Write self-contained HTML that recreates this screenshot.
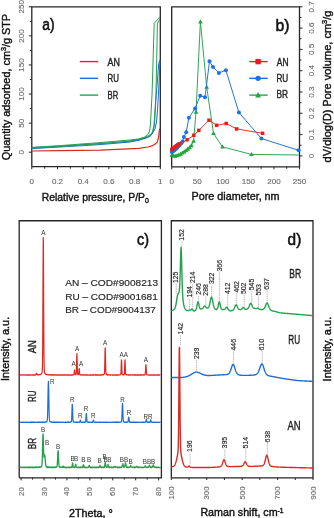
<!DOCTYPE html>
<html><head><meta charset="utf-8"><style>
html,body{margin:0;padding:0;background:#fff;width:334px;height:518px;overflow:hidden}
svg{display:block;will-change:transform}
text{font-family:"Liberation Sans",sans-serif}
</style></head><body>
<svg width="334" height="518" viewBox="0 0 334 518">
<rect width="334" height="518" fill="#fff"/>
<path d="M31.8,166.7 V6.8 H160.3 V166.7 H31.8" fill="none" stroke="#262626" stroke-width="1.3"/>
<line x1="28.8" y1="152.2" x2="31.8" y2="152.2" stroke="#262626" stroke-width="1.0" />
<line x1="29.8" y1="137.66" x2="31.8" y2="137.66" stroke="#262626" stroke-width="1.0" />
<line x1="28.8" y1="123.11999999999999" x2="31.8" y2="123.11999999999999" stroke="#262626" stroke-width="1.0" />
<line x1="29.8" y1="108.58" x2="31.8" y2="108.58" stroke="#262626" stroke-width="1.0" />
<line x1="28.8" y1="94.03999999999999" x2="31.8" y2="94.03999999999999" stroke="#262626" stroke-width="1.0" />
<line x1="29.8" y1="79.5" x2="31.8" y2="79.5" stroke="#262626" stroke-width="1.0" />
<line x1="28.8" y1="64.96000000000001" x2="31.8" y2="64.96000000000001" stroke="#262626" stroke-width="1.0" />
<line x1="29.8" y1="50.42" x2="31.8" y2="50.42" stroke="#262626" stroke-width="1.0" />
<line x1="28.8" y1="35.88000000000001" x2="31.8" y2="35.88000000000001" stroke="#262626" stroke-width="1.0" />
<line x1="29.8" y1="21.340000000000003" x2="31.8" y2="21.340000000000003" stroke="#262626" stroke-width="1.0" />
<line x1="28.8" y1="6.800000000000011" x2="31.8" y2="6.800000000000011" stroke="#262626" stroke-width="1.0" />
<line x1="31.8" y1="166.7" x2="31.8" y2="169.2" stroke="#262626" stroke-width="1.0" />
<line x1="44.65" y1="166.7" x2="44.65" y2="168.7" stroke="#262626" stroke-width="1.0" />
<line x1="57.5" y1="166.7" x2="57.5" y2="169.2" stroke="#262626" stroke-width="1.0" />
<line x1="70.35" y1="166.7" x2="70.35" y2="168.7" stroke="#262626" stroke-width="1.0" />
<line x1="83.2" y1="166.7" x2="83.2" y2="169.2" stroke="#262626" stroke-width="1.0" />
<line x1="96.05" y1="166.7" x2="96.05" y2="168.7" stroke="#262626" stroke-width="1.0" />
<line x1="108.89999999999999" y1="166.7" x2="108.89999999999999" y2="169.2" stroke="#262626" stroke-width="1.0" />
<line x1="121.75" y1="166.7" x2="121.75" y2="168.7" stroke="#262626" stroke-width="1.0" />
<line x1="134.6" y1="166.7" x2="134.6" y2="169.2" stroke="#262626" stroke-width="1.0" />
<line x1="147.45000000000002" y1="166.7" x2="147.45000000000002" y2="168.7" stroke="#262626" stroke-width="1.0" />
<line x1="160.3" y1="166.7" x2="160.3" y2="169.2" stroke="#262626" stroke-width="1.0" />
<text x="23.95" y="152.2" font-size="8.1" fill="#6a6a6a" text-anchor="middle" font-weight="normal" transform="rotate(-90 23.95 152.2)" stroke="#6a6a6a" stroke-width="0.12">0</text>
<text x="23.95" y="123.11999999999999" font-size="8.1" fill="#6a6a6a" text-anchor="middle" font-weight="normal" transform="rotate(-90 23.95 123.11999999999999)" stroke="#6a6a6a" stroke-width="0.12">50</text>
<text x="23.95" y="94.03999999999999" font-size="8.1" fill="#6a6a6a" text-anchor="middle" font-weight="normal" transform="rotate(-90 23.95 94.03999999999999)" stroke="#6a6a6a" stroke-width="0.12">100</text>
<text x="23.95" y="64.96000000000001" font-size="8.1" fill="#6a6a6a" text-anchor="middle" font-weight="normal" transform="rotate(-90 23.95 64.96000000000001)" stroke="#6a6a6a" stroke-width="0.12">150</text>
<text x="23.95" y="35.88000000000001" font-size="8.1" fill="#6a6a6a" text-anchor="middle" font-weight="normal" transform="rotate(-90 23.95 35.88000000000001)" stroke="#6a6a6a" stroke-width="0.12">200</text>
<text x="23.95" y="6.800000000000011" font-size="8.1" fill="#6a6a6a" text-anchor="middle" font-weight="normal" transform="rotate(-90 23.95 6.800000000000011)" stroke="#6a6a6a" stroke-width="0.12">250</text>
<text x="31.8" y="184.2" font-size="8.0" fill="#6a6a6a" text-anchor="middle" font-weight="normal" stroke="#6a6a6a" stroke-width="0.12">0</text>
<text x="57.5" y="184.2" font-size="8.0" fill="#6a6a6a" text-anchor="middle" font-weight="normal" stroke="#6a6a6a" stroke-width="0.12">0.2</text>
<text x="83.2" y="184.2" font-size="8.0" fill="#6a6a6a" text-anchor="middle" font-weight="normal" stroke="#6a6a6a" stroke-width="0.12">0.4</text>
<text x="108.89999999999999" y="184.2" font-size="8.0" fill="#6a6a6a" text-anchor="middle" font-weight="normal" stroke="#6a6a6a" stroke-width="0.12">0.6</text>
<text x="134.6" y="184.2" font-size="8.0" fill="#6a6a6a" text-anchor="middle" font-weight="normal" stroke="#6a6a6a" stroke-width="0.12">0.8</text>
<text x="160.3" y="184.2" font-size="8.0" fill="#6a6a6a" text-anchor="middle" font-weight="normal" stroke="#6a6a6a" stroke-width="0.12">1</text>
<line x1="79.8" y1="61.6" x2="98.2" y2="61.6" stroke="#d92b20" stroke-width="1.4" />
<line x1="79.8" y1="78.35" x2="98.2" y2="78.35" stroke="#1b6cdc" stroke-width="1.4" />
<line x1="79.8" y1="95.1" x2="98.2" y2="95.1" stroke="#27a04e" stroke-width="1.4" />
<path d="M31.80,151.00 L60.00,150.60 L100.00,150.20 L138.90,148.30 L148.00,147.00 L152.50,145.70 L155.50,143.80 L157.40,141.80 L158.60,137.00 L159.40,130.00 L159.90,128.50" fill="none" stroke="#d92b20" stroke-width="1.2" stroke-linejoin="round" />
<path d="M31.80,148.60 L60.00,147.00 L100.00,144.60 L130.00,142.00 L138.00,140.40 L147.70,137.50 L151.00,135.50 L153.20,131.00 L154.50,124.00 L155.30,110.00 L156.20,95.00 L157.50,80.00 L158.60,65.00 L159.50,60.50" fill="none" stroke="#1b6cdc" stroke-width="1.0" stroke-linejoin="round" />
<path d="M31.80,147.60 L60.00,146.20 L100.00,143.60 L130.00,141.30 L140.00,139.80 L148.00,137.00 L152.00,134.00 L155.00,129.00 L156.50,122.00 L157.50,110.00 L158.40,95.00 L159.20,80.00 L159.80,65.00 L160.00,60.50" fill="none" stroke="#1b6cdc" stroke-width="1.0" stroke-linejoin="round" />
<path d="M31.80,148.20 L60.00,146.50 L100.00,143.80 L130.00,141.00 L138.00,139.40 L144.00,137.50 L147.70,134.60 L149.60,131.00 L150.50,124.00 L151.20,110.00 L152.00,95.00 L152.80,70.00 L153.50,45.00 L154.20,23.30 L159.80,17.00" fill="none" stroke="#27a04e" stroke-width="1.0" stroke-linejoin="round" />
<path d="M31.80,147.40 L60.00,145.60 L100.00,142.60 L130.00,140.00 L138.00,139.00 L146.00,137.00 L150.00,135.00 L152.50,132.00 L154.00,125.00 L155.00,110.00 L155.90,95.00 L156.50,70.00 L157.00,45.00 L157.30,24.00 L159.80,19.00" fill="none" stroke="#27a04e" stroke-width="1.0" stroke-linejoin="round" />
<path d="M171.7,166.8 V6.8 H299.5 V166.8 H171.7" fill="none" stroke="#262626" stroke-width="1.3"/>
<line x1="299.5" y1="155.9" x2="302.5" y2="155.9" stroke="#262626" stroke-width="1.0" />
<line x1="299.5" y1="145.25" x2="301.5" y2="145.25" stroke="#262626" stroke-width="1.0" />
<line x1="299.5" y1="134.6" x2="302.5" y2="134.6" stroke="#262626" stroke-width="1.0" />
<line x1="299.5" y1="123.95" x2="301.5" y2="123.95" stroke="#262626" stroke-width="1.0" />
<line x1="299.5" y1="113.30000000000001" x2="302.5" y2="113.30000000000001" stroke="#262626" stroke-width="1.0" />
<line x1="299.5" y1="102.65" x2="301.5" y2="102.65" stroke="#262626" stroke-width="1.0" />
<line x1="299.5" y1="92.0" x2="302.5" y2="92.0" stroke="#262626" stroke-width="1.0" />
<line x1="299.5" y1="81.35" x2="301.5" y2="81.35" stroke="#262626" stroke-width="1.0" />
<line x1="299.5" y1="70.7" x2="302.5" y2="70.7" stroke="#262626" stroke-width="1.0" />
<line x1="299.5" y1="60.05" x2="301.5" y2="60.05" stroke="#262626" stroke-width="1.0" />
<line x1="299.5" y1="49.400000000000006" x2="302.5" y2="49.400000000000006" stroke="#262626" stroke-width="1.0" />
<line x1="299.5" y1="38.75" x2="301.5" y2="38.75" stroke="#262626" stroke-width="1.0" />
<line x1="299.5" y1="28.09999999999998" x2="302.5" y2="28.09999999999998" stroke="#262626" stroke-width="1.0" />
<line x1="299.5" y1="17.44999999999999" x2="301.5" y2="17.44999999999999" stroke="#262626" stroke-width="1.0" />
<line x1="299.5" y1="6.799999999999983" x2="302.5" y2="6.799999999999983" stroke="#262626" stroke-width="1.0" />
<line x1="299.5" y1="166.8" x2="299.5" y2="168.8" stroke="#262626" stroke-width="1.0" />
<line x1="171.7" y1="166.8" x2="171.7" y2="169.3" stroke="#262626" stroke-width="1.0" />
<line x1="184.48" y1="166.8" x2="184.48" y2="168.8" stroke="#262626" stroke-width="1.0" />
<line x1="197.26" y1="166.8" x2="197.26" y2="169.3" stroke="#262626" stroke-width="1.0" />
<line x1="210.04" y1="166.8" x2="210.04" y2="168.8" stroke="#262626" stroke-width="1.0" />
<line x1="222.82" y1="166.8" x2="222.82" y2="169.3" stroke="#262626" stroke-width="1.0" />
<line x1="235.6" y1="166.8" x2="235.6" y2="168.8" stroke="#262626" stroke-width="1.0" />
<line x1="248.38" y1="166.8" x2="248.38" y2="169.3" stroke="#262626" stroke-width="1.0" />
<line x1="261.15999999999997" y1="166.8" x2="261.15999999999997" y2="168.8" stroke="#262626" stroke-width="1.0" />
<line x1="273.94" y1="166.8" x2="273.94" y2="169.3" stroke="#262626" stroke-width="1.0" />
<line x1="286.72" y1="166.8" x2="286.72" y2="168.8" stroke="#262626" stroke-width="1.0" />
<line x1="299.5" y1="166.8" x2="299.5" y2="169.3" stroke="#262626" stroke-width="1.0" />
<text x="314.0" y="155.9" font-size="8.1" fill="#6a6a6a" text-anchor="middle" font-weight="normal" transform="rotate(-90 314.0 155.9)" stroke="#6a6a6a" stroke-width="0.12">0</text>
<text x="314.0" y="134.6" font-size="8.1" fill="#6a6a6a" text-anchor="middle" font-weight="normal" transform="rotate(-90 314.0 134.6)" stroke="#6a6a6a" stroke-width="0.12">0.1</text>
<text x="314.0" y="113.30000000000001" font-size="8.1" fill="#6a6a6a" text-anchor="middle" font-weight="normal" transform="rotate(-90 314.0 113.30000000000001)" stroke="#6a6a6a" stroke-width="0.12">0.2</text>
<text x="314.0" y="92.0" font-size="8.1" fill="#6a6a6a" text-anchor="middle" font-weight="normal" transform="rotate(-90 314.0 92.0)" stroke="#6a6a6a" stroke-width="0.12">0.3</text>
<text x="314.0" y="70.7" font-size="8.1" fill="#6a6a6a" text-anchor="middle" font-weight="normal" transform="rotate(-90 314.0 70.7)" stroke="#6a6a6a" stroke-width="0.12">0.4</text>
<text x="314.0" y="49.400000000000006" font-size="8.1" fill="#6a6a6a" text-anchor="middle" font-weight="normal" transform="rotate(-90 314.0 49.400000000000006)" stroke="#6a6a6a" stroke-width="0.12">0.5</text>
<text x="314.0" y="28.09999999999998" font-size="8.1" fill="#6a6a6a" text-anchor="middle" font-weight="normal" transform="rotate(-90 314.0 28.09999999999998)" stroke="#6a6a6a" stroke-width="0.12">0.6</text>
<text x="314.0" y="6.799999999999983" font-size="8.1" fill="#6a6a6a" text-anchor="middle" font-weight="normal" transform="rotate(-90 314.0 6.799999999999983)" stroke="#6a6a6a" stroke-width="0.12">0.7</text>
<text x="171.7" y="184.2" font-size="8.0" fill="#6a6a6a" text-anchor="middle" font-weight="normal" stroke="#6a6a6a" stroke-width="0.12">0</text>
<text x="197.26" y="184.2" font-size="8.0" fill="#6a6a6a" text-anchor="middle" font-weight="normal" stroke="#6a6a6a" stroke-width="0.12">50</text>
<text x="222.82" y="184.2" font-size="8.0" fill="#6a6a6a" text-anchor="middle" font-weight="normal" stroke="#6a6a6a" stroke-width="0.12">100</text>
<text x="248.38" y="184.2" font-size="8.0" fill="#6a6a6a" text-anchor="middle" font-weight="normal" stroke="#6a6a6a" stroke-width="0.12">150</text>
<text x="273.94" y="184.2" font-size="8.0" fill="#6a6a6a" text-anchor="middle" font-weight="normal" stroke="#6a6a6a" stroke-width="0.12">200</text>
<text x="299.5" y="184.2" font-size="8.0" fill="#6a6a6a" text-anchor="middle" font-weight="normal" stroke="#6a6a6a" stroke-width="0.12">250</text>
<line x1="249.3" y1="61.6" x2="267.7" y2="61.6" stroke="#d92b20" stroke-width="1.4" />
<rect x="255.40000000000003" y="58.9" width="5.4" height="5.4" fill="#ec1c10"/>
<line x1="249.3" y1="78.35" x2="267.7" y2="78.35" stroke="#1b6cdc" stroke-width="1.4" />
<circle cx="258.1" cy="78.35" r="2.7" fill="#1a72ea"/>
<line x1="249.3" y1="95.1" x2="267.7" y2="95.1" stroke="#27a04e" stroke-width="1.4" />
<path d="M258.1,92.1 L261.0,97.39999999999999 L255.2,97.39999999999999 Z" fill="#1ea83e"/>
<path d="M171.80,155.10 L173.50,155.80 L175.20,156.00 L177.00,155.60 L178.80,154.90 L180.60,154.00 L182.40,152.90 L184.20,151.70 L186.00,150.40 L187.80,149.00 L189.60,147.50 L191.40,145.50 L193.60,141.00 L196.00,112.00 L200.40,21.70 L206.70,87.00 L213.50,133.40 L222.50,146.90 L251.50,154.40 L298.80,155.00" fill="none" stroke="#27a04e" stroke-width="0.95" stroke-linejoin="round" />
<path d="M171.80,152.60 L174.10,156.80 L169.50,156.80 Z" fill="#1ea83e"/>
<path d="M173.50,153.30 L175.80,157.50 L171.20,157.50 Z" fill="#1ea83e"/>
<path d="M175.20,153.50 L177.50,157.70 L172.90,157.70 Z" fill="#1ea83e"/>
<path d="M177.00,153.10 L179.30,157.30 L174.70,157.30 Z" fill="#1ea83e"/>
<path d="M178.80,152.40 L181.10,156.60 L176.50,156.60 Z" fill="#1ea83e"/>
<path d="M180.60,151.50 L182.90,155.70 L178.30,155.70 Z" fill="#1ea83e"/>
<path d="M182.40,150.40 L184.70,154.60 L180.10,154.60 Z" fill="#1ea83e"/>
<path d="M184.20,149.20 L186.50,153.40 L181.90,153.40 Z" fill="#1ea83e"/>
<path d="M186.00,147.90 L188.30,152.10 L183.70,152.10 Z" fill="#1ea83e"/>
<path d="M187.80,146.50 L190.10,150.70 L185.50,150.70 Z" fill="#1ea83e"/>
<path d="M189.60,145.00 L191.90,149.20 L187.30,149.20 Z" fill="#1ea83e"/>
<path d="M191.40,143.00 L193.70,147.20 L189.10,147.20 Z" fill="#1ea83e"/>
<path d="M193.60,138.50 L195.90,142.70 L191.30,142.70 Z" fill="#1ea83e"/>
<path d="M196.00,109.50 L198.30,113.70 L193.70,113.70 Z" fill="#1ea83e"/>
<path d="M200.40,19.20 L202.70,23.40 L198.10,23.40 Z" fill="#1ea83e"/>
<path d="M206.70,84.50 L209.00,88.70 L204.40,88.70 Z" fill="#1ea83e"/>
<path d="M213.50,130.90 L215.80,135.10 L211.20,135.10 Z" fill="#1ea83e"/>
<path d="M222.50,144.40 L224.80,148.60 L220.20,148.60 Z" fill="#1ea83e"/>
<path d="M251.50,151.90 L253.80,156.10 L249.20,156.10 Z" fill="#1ea83e"/>
<path d="M171.80,152.00 L173.15,151.30 L174.50,150.28 L175.85,149.09 L177.20,147.78 L178.55,146.35 L179.90,144.84 L181.25,143.26 L182.60,141.60 L183.90,137.10 L186.20,132.20 L188.90,117.70 L195.10,108.40 L200.20,95.80 L205.00,97.20 L209.50,61.20 L213.00,67.10 L218.90,72.90 L225.90,70.20 L238.90,112.50 L261.40,138.50 L298.60,150.30" fill="none" stroke="#1b6cdc" stroke-width="0.95" stroke-linejoin="round" />
<circle cx="171.80" cy="152.00" r="2.0" fill="#1a72ea"/>
<circle cx="173.15" cy="151.30" r="2.0" fill="#1a72ea"/>
<circle cx="174.50" cy="150.28" r="2.0" fill="#1a72ea"/>
<circle cx="175.85" cy="149.09" r="2.0" fill="#1a72ea"/>
<circle cx="177.20" cy="147.78" r="2.0" fill="#1a72ea"/>
<circle cx="178.55" cy="146.35" r="2.0" fill="#1a72ea"/>
<circle cx="179.90" cy="144.84" r="2.0" fill="#1a72ea"/>
<circle cx="181.25" cy="143.26" r="2.0" fill="#1a72ea"/>
<circle cx="182.60" cy="141.60" r="2.0" fill="#1a72ea"/>
<circle cx="183.90" cy="137.10" r="2.0" fill="#1a72ea"/>
<circle cx="186.20" cy="132.20" r="2.0" fill="#1a72ea"/>
<circle cx="188.90" cy="117.70" r="2.0" fill="#1a72ea"/>
<circle cx="195.10" cy="108.40" r="2.0" fill="#1a72ea"/>
<circle cx="200.20" cy="95.80" r="2.0" fill="#1a72ea"/>
<circle cx="205.00" cy="97.20" r="2.0" fill="#1a72ea"/>
<circle cx="209.50" cy="61.20" r="2.0" fill="#1a72ea"/>
<circle cx="213.00" cy="67.10" r="2.0" fill="#1a72ea"/>
<circle cx="218.90" cy="72.90" r="2.0" fill="#1a72ea"/>
<circle cx="225.90" cy="70.20" r="2.0" fill="#1a72ea"/>
<circle cx="238.90" cy="112.50" r="2.0" fill="#1a72ea"/>
<circle cx="261.40" cy="138.50" r="2.0" fill="#1a72ea"/>
<circle cx="298.60" cy="150.30" r="2.0" fill="#1a72ea"/>
<path d="M171.80,149.30 L173.00,148.40 L174.20,147.50 L175.40,146.60 L176.60,145.70 L177.80,144.80 L179.00,143.90 L187.10,139.80 L193.80,135.30 L198.80,130.40 L209.00,120.20 L216.60,125.30 L226.20,123.50 L236.60,128.90 L262.60,133.30" fill="none" stroke="#d92b20" stroke-width="0.95" stroke-linejoin="round" />
<rect x="170.05" y="147.55" width="3.5" height="3.5" fill="#e81e12"/>
<rect x="171.25" y="146.65" width="3.5" height="3.5" fill="#e81e12"/>
<rect x="172.45" y="145.75" width="3.5" height="3.5" fill="#e81e12"/>
<rect x="173.65" y="144.85" width="3.5" height="3.5" fill="#e81e12"/>
<rect x="174.85" y="143.95" width="3.5" height="3.5" fill="#e81e12"/>
<rect x="176.05" y="143.05" width="3.5" height="3.5" fill="#e81e12"/>
<rect x="177.25" y="142.15" width="3.5" height="3.5" fill="#e81e12"/>
<rect x="185.35" y="138.05" width="3.5" height="3.5" fill="#e81e12"/>
<rect x="192.05" y="133.55" width="3.5" height="3.5" fill="#e81e12"/>
<rect x="197.05" y="128.65" width="3.5" height="3.5" fill="#e81e12"/>
<rect x="207.25" y="118.45" width="3.5" height="3.5" fill="#e81e12"/>
<rect x="214.85" y="123.55" width="3.5" height="3.5" fill="#e81e12"/>
<rect x="224.45" y="121.75" width="3.5" height="3.5" fill="#e81e12"/>
<rect x="234.85" y="127.15" width="3.5" height="3.5" fill="#e81e12"/>
<rect x="260.85" y="131.55" width="3.5" height="3.5" fill="#e81e12"/>
<path d="M19.2,477.8 V220.75 H161.4 V477.8 H19.2" fill="none" stroke="#262626" stroke-width="1.3"/>
<line x1="21.1" y1="477.8" x2="21.1" y2="480.40000000000003" stroke="#262626" stroke-width="1.0" />
<line x1="32.55833333333334" y1="477.8" x2="32.55833333333334" y2="479.6" stroke="#262626" stroke-width="1.0" />
<line x1="44.016666666666666" y1="477.8" x2="44.016666666666666" y2="480.40000000000003" stroke="#262626" stroke-width="1.0" />
<line x1="55.475" y1="477.8" x2="55.475" y2="479.6" stroke="#262626" stroke-width="1.0" />
<line x1="66.93333333333334" y1="477.8" x2="66.93333333333334" y2="480.40000000000003" stroke="#262626" stroke-width="1.0" />
<line x1="78.39166666666667" y1="477.8" x2="78.39166666666667" y2="479.6" stroke="#262626" stroke-width="1.0" />
<line x1="89.85" y1="477.8" x2="89.85" y2="480.40000000000003" stroke="#262626" stroke-width="1.0" />
<line x1="101.30833333333334" y1="477.8" x2="101.30833333333334" y2="479.6" stroke="#262626" stroke-width="1.0" />
<line x1="112.76666666666668" y1="477.8" x2="112.76666666666668" y2="480.40000000000003" stroke="#262626" stroke-width="1.0" />
<line x1="124.225" y1="477.8" x2="124.225" y2="479.6" stroke="#262626" stroke-width="1.0" />
<line x1="135.68333333333334" y1="477.8" x2="135.68333333333334" y2="480.40000000000003" stroke="#262626" stroke-width="1.0" />
<line x1="147.14166666666668" y1="477.8" x2="147.14166666666668" y2="479.6" stroke="#262626" stroke-width="1.0" />
<line x1="158.6" y1="477.8" x2="158.6" y2="480.40000000000003" stroke="#262626" stroke-width="1.0" />
<text x="23.6" y="491.6" font-size="7.9" fill="#6a6a6a" text-anchor="middle" font-weight="normal" transform="rotate(-90 23.6 491.6)" stroke="#6a6a6a" stroke-width="0.12">20</text>
<text x="46.516666666666666" y="491.6" font-size="7.9" fill="#6a6a6a" text-anchor="middle" font-weight="normal" transform="rotate(-90 46.516666666666666 491.6)" stroke="#6a6a6a" stroke-width="0.12">30</text>
<text x="69.43333333333334" y="491.6" font-size="7.9" fill="#6a6a6a" text-anchor="middle" font-weight="normal" transform="rotate(-90 69.43333333333334 491.6)" stroke="#6a6a6a" stroke-width="0.12">40</text>
<text x="92.35" y="491.6" font-size="7.9" fill="#6a6a6a" text-anchor="middle" font-weight="normal" transform="rotate(-90 92.35 491.6)" stroke="#6a6a6a" stroke-width="0.12">50</text>
<text x="115.26666666666668" y="491.6" font-size="7.9" fill="#6a6a6a" text-anchor="middle" font-weight="normal" transform="rotate(-90 115.26666666666668 491.6)" stroke="#6a6a6a" stroke-width="0.12">60</text>
<text x="138.18333333333334" y="491.6" font-size="7.9" fill="#6a6a6a" text-anchor="middle" font-weight="normal" transform="rotate(-90 138.18333333333334 491.6)" stroke="#6a6a6a" stroke-width="0.12">70</text>
<text x="161.1" y="491.6" font-size="7.9" fill="#6a6a6a" text-anchor="middle" font-weight="normal" transform="rotate(-90 161.1 491.6)" stroke="#6a6a6a" stroke-width="0.12">80</text>
<path d="M20.20,375.17 L20.36,375.17 L20.51,374.81 L20.67,374.82 L20.82,375.12 L20.98,375.08 L21.13,375.06 L21.29,374.91 L21.45,375.03 L21.60,375.03 L21.76,375.02 L21.91,374.85 L22.07,374.96 L22.23,374.95 L22.38,375.08 L22.54,375.19 L22.69,375.17 L22.85,375.01 L23.00,374.97 L23.16,374.89 L23.32,374.80 L23.47,374.80 L23.63,374.97 L23.78,374.91 L23.94,374.94 L24.09,375.14 L24.25,375.00 L24.41,375.01 L24.56,374.88 L24.72,374.79 L24.87,374.91 L25.03,374.84 L25.18,374.99 L25.34,375.18 L25.50,375.05 L25.65,374.86 L25.81,375.14 L25.96,375.10 L26.12,375.08 L26.28,375.14 L26.43,375.09 L26.59,375.10 L26.74,374.92 L26.90,375.17 L27.05,375.16 L27.21,374.84 L27.37,375.08 L27.52,375.06 L27.68,374.96 L27.83,374.99 L27.99,374.97 L28.14,375.15 L28.30,374.98 L28.46,375.11 L28.61,374.92 L28.77,375.13 L28.92,375.13 L29.08,374.96 L29.24,375.00 L29.39,375.14 L29.55,375.06 L29.70,374.97 L29.86,374.86 L30.01,374.90 L30.17,375.05 L30.33,374.83 L30.48,375.13 L30.64,374.87 L30.79,375.13 L30.95,374.89 L31.10,375.15 L31.26,375.05 L31.42,374.96 L31.57,374.97 L31.73,375.02 L31.88,374.99 L32.04,374.88 L32.19,374.84 L32.35,374.96 L32.51,375.13 L32.66,375.00 L32.82,374.78 L32.97,375.08 L33.13,375.04 L33.29,375.11 L33.44,374.82 L33.60,375.04 L33.75,374.76 L33.91,375.00 L34.06,374.84 L34.22,374.82 L34.38,375.07 L34.53,374.76 L34.69,374.92 L34.84,375.05 L35.00,374.80 L35.15,374.78 L35.31,375.03 L35.47,374.82 L35.62,374.88 L35.78,374.48 L35.93,374.39 L36.09,373.97 L36.25,373.80 L36.40,373.28 L36.56,373.59 L36.71,373.43 L36.87,374.07 L37.02,374.13 L37.18,374.48 L37.34,374.84 L37.49,374.64 L37.65,374.67 L37.80,374.88 L37.96,374.76 L38.11,374.61 L38.27,374.98 L38.43,374.64 L38.58,374.58 L38.74,374.69 L38.89,374.78 L39.05,374.82 L39.20,374.55 L39.36,374.62 L39.52,374.47 L39.67,374.61 L39.83,374.70 L39.98,374.65 L40.14,374.68 L40.30,374.57 L40.45,374.55 L40.61,374.42 L40.76,374.25 L40.92,374.06 L41.07,374.12 L41.23,373.85 L41.39,373.59 L41.54,373.52 L41.70,373.43 L41.85,372.78 L42.01,372.47 L42.16,371.55 L42.32,369.71 L42.48,364.70 L42.63,353.42 L42.79,330.34 L42.94,296.12 L43.10,259.37 L43.26,237.56 L43.41,243.99 L43.57,274.04 L43.72,311.53 L43.88,341.47 L44.03,359.15 L44.19,367.30 L44.35,370.77 L44.50,372.03 L44.66,372.86 L44.81,373.26 L44.97,373.60 L45.12,373.53 L45.28,373.81 L45.44,373.88 L45.59,374.15 L45.75,374.26 L45.90,374.42 L46.06,374.46 L46.21,374.34 L46.37,374.46 L46.53,374.55 L46.68,374.38 L46.84,374.43 L46.99,374.61 L47.15,374.52 L47.31,374.79 L47.46,374.61 L47.62,374.58 L47.77,374.63 L47.93,374.66 L48.08,374.67 L48.24,374.81 L48.40,374.80 L48.55,374.75 L48.71,374.89 L48.86,374.73 L49.02,375.01 L49.17,375.04 L49.33,374.96 L49.49,374.84 L49.64,374.88 L49.80,374.91 L49.95,374.71 L50.11,374.86 L50.27,374.91 L50.42,374.77 L50.58,374.74 L50.73,375.03 L50.89,374.86 L51.04,374.92 L51.20,375.09 L51.36,374.97 L51.51,374.84 L51.67,375.12 L51.82,374.88 L51.98,374.74 L52.13,375.01 L52.29,374.78 L52.45,374.86 L52.60,375.08 L52.76,375.01 L52.91,374.75 L53.07,374.93 L53.22,374.91 L53.38,374.94 L53.54,374.83 L53.69,374.99 L53.85,374.78 L54.00,374.87 L54.16,374.91 L54.32,375.13 L54.47,374.79 L54.63,375.06 L54.78,374.84 L54.94,374.99 L55.09,374.92 L55.25,374.95 L55.41,375.07 L55.56,374.92 L55.72,374.81 L55.87,374.82 L56.03,374.80 L56.18,375.11 L56.34,375.03 L56.50,375.15 L56.65,375.05 L56.81,374.78 L56.96,375.03 L57.12,375.08 L57.28,375.06 L57.43,374.97 L57.59,374.92 L57.74,374.96 L57.90,375.09 L58.05,374.88 L58.21,374.99 L58.37,374.97 L58.52,375.16 L58.68,375.10 L58.83,375.15 L58.99,375.11 L59.14,374.90 L59.30,374.87 L59.46,374.97 L59.61,374.88 L59.77,374.95 L59.92,375.05 L60.08,375.15 L60.23,375.01 L60.39,375.11 L60.55,374.82 L60.70,374.92 L60.86,375.18 L61.01,374.84 L61.17,374.95 L61.33,374.81 L61.48,374.82 L61.64,375.14 L61.79,375.18 L61.95,375.04 L62.10,374.83 L62.26,374.90 L62.42,374.87 L62.57,375.05 L62.73,375.05 L62.88,374.96 L63.04,374.99 L63.19,374.83 L63.35,375.00 L63.51,375.16 L63.66,375.09 L63.82,374.82 L63.97,374.99 L64.13,375.07 L64.29,374.89 L64.44,375.14 L64.60,374.97 L64.75,375.06 L64.91,374.95 L65.06,375.18 L65.22,375.10 L65.38,375.01 L65.53,374.84 L65.69,374.96 L65.84,374.80 L66.00,375.02 L66.15,375.14 L66.31,374.86 L66.47,374.99 L66.62,374.98 L66.78,374.94 L66.93,375.07 L67.09,375.16 L67.24,375.06 L67.40,374.97 L67.56,375.17 L67.71,374.91 L67.87,375.08 L68.02,375.04 L68.18,375.09 L68.34,375.12 L68.49,374.87 L68.65,375.03 L68.80,374.94 L68.96,375.05 L69.11,375.17 L69.27,375.03 L69.43,374.78 L69.58,374.96 L69.74,375.06 L69.89,375.13 L70.05,375.03 L70.20,375.10 L70.36,374.78 L70.52,375.15 L70.67,375.06 L70.83,375.01 L70.98,375.13 L71.14,375.12 L71.30,374.81 L71.45,375.09 L71.61,375.07 L71.76,374.84 L71.92,375.05 L72.07,374.99 L72.23,374.83 L72.39,375.07 L72.54,374.79 L72.70,374.98 L72.85,374.90 L73.01,374.82 L73.16,374.93 L73.32,374.87 L73.48,374.75 L73.63,375.02 L73.79,374.57 L73.94,374.23 L74.10,373.51 L74.25,371.91 L74.41,370.11 L74.57,369.99 L74.72,371.45 L74.88,373.32 L75.03,374.19 L75.19,374.51 L75.35,374.67 L75.50,374.47 L75.66,374.46 L75.81,374.66 L75.97,374.29 L76.12,374.12 L76.28,372.89 L76.44,369.48 L76.59,363.55 L76.75,356.68 L76.90,353.60 L77.06,356.66 L77.21,363.62 L77.37,369.65 L77.53,372.84 L77.68,373.96 L77.84,374.21 L77.99,374.56 L78.15,374.79 L78.31,374.57 L78.46,374.59 L78.62,374.25 L78.77,373.33 L78.93,371.51 L79.08,369.01 L79.24,368.55 L79.40,370.20 L79.55,372.58 L79.71,374.21 L79.86,374.44 L80.02,374.91 L80.17,374.75 L80.33,374.92 L80.49,375.00 L80.64,374.96 L80.80,374.87 L80.95,375.06 L81.11,374.77 L81.26,374.99 L81.42,374.90 L81.58,374.96 L81.73,375.09 L81.89,375.08 L82.04,375.01 L82.20,374.88 L82.36,374.86 L82.51,374.95 L82.67,374.86 L82.82,374.88 L82.98,375.15 L83.13,374.82 L83.29,375.10 L83.45,374.93 L83.60,374.92 L83.76,374.90 L83.91,374.81 L84.07,374.96 L84.22,374.85 L84.38,374.96 L84.54,374.90 L84.69,375.14 L84.85,375.15 L85.00,374.96 L85.16,375.04 L85.32,375.16 L85.47,374.91 L85.63,374.82 L85.78,374.88 L85.94,374.86 L86.09,375.06 L86.25,374.93 L86.41,374.93 L86.56,375.10 L86.72,374.88 L86.87,375.11 L87.03,375.04 L87.18,374.95 L87.34,375.12 L87.50,374.92 L87.65,375.14 L87.81,375.16 L87.96,374.99 L88.12,375.06 L88.27,375.17 L88.43,375.09 L88.59,375.09 L88.74,375.14 L88.90,375.16 L89.05,375.09 L89.21,375.18 L89.37,374.91 L89.52,375.04 L89.68,375.06 L89.83,374.94 L89.99,374.95 L90.14,374.86 L90.30,375.17 L90.46,374.93 L90.61,374.98 L90.77,375.15 L90.92,374.86 L91.08,375.17 L91.23,374.84 L91.39,374.80 L91.55,374.93 L91.70,374.93 L91.86,375.16 L92.01,375.14 L92.17,375.09 L92.33,374.96 L92.48,375.01 L92.64,374.88 L92.79,375.12 L92.95,374.94 L93.10,374.90 L93.26,375.04 L93.42,374.85 L93.57,374.91 L93.73,375.16 L93.88,374.83 L94.04,374.84 L94.19,374.87 L94.35,374.89 L94.51,374.96 L94.66,374.89 L94.82,374.92 L94.97,374.89 L95.13,374.88 L95.28,375.03 L95.44,374.92 L95.60,374.94 L95.75,375.09 L95.91,374.81 L96.06,374.84 L96.22,375.13 L96.38,374.96 L96.53,375.10 L96.69,374.84 L96.84,374.99 L97.00,375.12 L97.15,374.92 L97.31,375.09 L97.47,375.03 L97.62,374.94 L97.78,375.18 L97.93,374.94 L98.09,374.97 L98.24,375.03 L98.40,374.90 L98.56,375.11 L98.71,375.02 L98.87,375.01 L99.02,374.99 L99.18,375.17 L99.34,375.17 L99.49,375.11 L99.65,374.95 L99.80,374.93 L99.96,374.98 L100.11,374.78 L100.27,374.81 L100.43,375.16 L100.58,374.81 L100.74,375.13 L100.89,375.02 L101.05,375.12 L101.20,374.78 L101.36,374.86 L101.52,375.06 L101.67,374.74 L101.83,374.77 L101.98,374.86 L102.14,374.78 L102.29,374.76 L102.45,374.96 L102.61,374.72 L102.76,375.05 L102.92,374.91 L103.07,374.65 L103.23,374.96 L103.39,374.66 L103.54,374.72 L103.70,374.70 L103.85,374.46 L104.01,374.50 L104.16,374.15 L104.32,373.78 L104.48,372.87 L104.63,369.81 L104.79,363.82 L104.94,355.81 L105.10,349.14 L105.25,347.80 L105.41,353.36 L105.57,361.38 L105.72,368.10 L105.88,371.89 L106.03,373.54 L106.19,374.06 L106.35,374.35 L106.50,374.53 L106.66,374.70 L106.81,374.85 L106.97,374.92 L107.12,374.88 L107.28,374.82 L107.44,375.01 L107.59,374.72 L107.75,374.72 L107.90,375.01 L108.06,374.95 L108.21,374.79 L108.37,374.87 L108.53,374.84 L108.68,374.90 L108.84,374.91 L108.99,374.90 L109.15,375.06 L109.30,375.07 L109.46,374.97 L109.62,374.94 L109.77,374.87 L109.93,375.06 L110.08,375.15 L110.24,374.85 L110.40,375.04 L110.55,375.04 L110.71,375.03 L110.86,374.78 L111.02,374.99 L111.17,374.85 L111.33,374.85 L111.49,375.00 L111.64,375.03 L111.80,375.02 L111.95,375.07 L112.11,375.06 L112.26,374.97 L112.42,374.80 L112.58,375.09 L112.73,375.11 L112.89,375.11 L113.04,375.02 L113.20,374.79 L113.36,374.86 L113.51,374.82 L113.67,375.03 L113.82,375.00 L113.98,374.85 L114.13,375.16 L114.29,375.17 L114.45,375.14 L114.60,374.96 L114.76,374.89 L114.91,374.86 L115.07,375.11 L115.22,375.06 L115.38,374.89 L115.54,375.14 L115.69,375.00 L115.85,374.94 L116.00,374.94 L116.16,375.06 L116.31,374.96 L116.47,375.04 L116.63,374.82 L116.78,375.05 L116.94,374.88 L117.09,375.13 L117.25,374.85 L117.41,374.90 L117.56,374.98 L117.72,374.92 L117.87,374.97 L118.03,375.13 L118.18,374.83 L118.34,375.06 L118.50,375.02 L118.65,375.06 L118.81,374.91 L118.96,374.91 L119.12,374.86 L119.27,374.90 L119.43,374.80 L119.59,374.76 L119.74,374.86 L119.90,374.72 L120.05,374.81 L120.21,374.81 L120.37,374.65 L120.52,374.51 L120.68,374.48 L120.83,373.94 L120.99,371.87 L121.14,368.25 L121.30,363.18 L121.46,359.83 L121.61,360.78 L121.77,365.23 L121.92,369.95 L122.08,373.08 L122.23,374.05 L122.39,374.32 L122.55,374.79 L122.70,374.58 L122.86,374.67 L123.01,374.69 L123.17,374.67 L123.32,374.86 L123.48,374.70 L123.64,374.72 L123.79,374.68 L123.95,374.79 L124.10,374.35 L124.26,374.22 L124.42,372.93 L124.57,370.23 L124.73,365.86 L124.88,361.24 L125.04,359.94 L125.19,363.35 L125.35,368.41 L125.51,372.03 L125.66,373.79 L125.82,374.56 L125.97,374.81 L126.13,374.60 L126.28,374.71 L126.44,375.01 L126.60,375.02 L126.75,374.75 L126.91,374.97 L127.06,375.05 L127.22,374.95 L127.38,375.01 L127.53,374.94 L127.69,374.83 L127.84,374.83 L128.00,374.77 L128.15,375.02 L128.31,374.81 L128.47,375.01 L128.62,374.92 L128.78,374.94 L128.93,375.16 L129.09,374.93 L129.24,374.96 L129.40,374.92 L129.56,374.86 L129.71,374.86 L129.87,374.99 L130.02,375.10 L130.18,374.81 L130.33,375.16 L130.49,375.05 L130.65,374.80 L130.80,375.06 L130.96,374.94 L131.11,374.99 L131.27,374.82 L131.43,374.99 L131.58,374.99 L131.74,375.10 L131.89,375.02 L132.05,375.07 L132.20,375.08 L132.36,374.88 L132.52,374.80 L132.67,374.98 L132.83,374.84 L132.98,374.84 L133.14,374.92 L133.29,375.00 L133.45,375.03 L133.61,375.05 L133.76,375.17 L133.92,374.83 L134.07,375.01 L134.23,374.82 L134.39,375.06 L134.54,374.96 L134.70,374.85 L134.85,374.91 L135.01,375.05 L135.16,374.98 L135.32,375.17 L135.48,374.93 L135.63,374.93 L135.79,375.16 L135.94,375.03 L136.10,374.83 L136.25,375.10 L136.41,374.94 L136.57,375.17 L136.72,375.04 L136.88,375.11 L137.03,375.15 L137.19,374.99 L137.34,375.18 L137.50,374.80 L137.66,374.93 L137.81,375.13 L137.97,374.79 L138.12,375.06 L138.28,375.19 L138.44,375.08 L138.59,375.13 L138.75,374.82 L138.90,375.01 L139.06,375.03 L139.21,374.96 L139.37,374.96 L139.53,375.10 L139.68,374.85 L139.84,374.81 L139.99,375.02 L140.15,375.17 L140.30,375.12 L140.46,375.06 L140.62,374.90 L140.77,375.15 L140.93,374.80 L141.08,374.88 L141.24,375.10 L141.40,375.14 L141.55,374.94 L141.71,375.14 L141.86,374.82 L142.02,375.02 L142.17,374.80 L142.33,374.87 L142.49,374.85 L142.64,374.77 L142.80,374.93 L142.95,374.96 L143.11,374.87 L143.26,375.01 L143.42,374.77 L143.58,374.95 L143.73,374.95 L143.89,374.89 L144.04,375.08 L144.20,374.75 L144.35,374.85 L144.51,374.84 L144.67,374.77 L144.82,374.95 L144.98,374.67 L145.13,374.30 L145.29,373.35 L145.45,371.42 L145.60,368.68 L145.76,365.73 L145.91,364.57 L146.07,365.86 L146.22,369.06 L146.38,371.69 L146.54,373.52 L146.69,374.19 L146.85,374.75 L147.00,374.97 L147.16,374.88 L147.31,374.89 L147.47,374.78 L147.63,374.88 L147.78,374.90 L147.94,374.90 L148.09,374.84 L148.25,374.83 L148.41,375.05 L148.56,375.14 L148.72,375.09 L148.87,375.01 L149.03,374.78 L149.18,374.89 L149.34,375.11 L149.50,375.16 L149.65,375.00 L149.81,375.01 L149.96,375.05 L150.12,374.88 L150.27,375.07 L150.43,374.93 L150.59,375.12 L150.74,374.97 L150.90,375.05 L151.05,375.01 L151.21,375.00 L151.36,374.97 L151.52,375.17 L151.68,375.09 L151.83,374.96 L151.99,374.99 L152.14,375.15 L152.30,375.09 L152.46,375.05 L152.61,375.17 L152.77,374.84 L152.92,375.03 L153.08,375.04 L153.23,374.97 L153.39,375.18 L153.55,375.18 L153.70,374.95 L153.86,375.04 L154.01,375.10 L154.17,375.07 L154.32,374.94 L154.48,375.11 L154.64,374.93 L154.79,374.85 L154.95,375.06 L155.10,375.05 L155.26,374.96 L155.42,374.99 L155.57,375.19 L155.73,375.12 L155.88,374.96 L156.04,375.16 L156.19,375.02 L156.35,374.96 L156.51,375.05 L156.66,375.11 L156.82,375.15 L156.97,375.06 L157.13,375.06 L157.28,374.96 L157.44,374.81 L157.60,374.98 L157.75,374.84 L157.91,375.17 L158.06,374.94 L158.22,375.04 L158.37,375.09 L158.53,374.87 L158.69,375.13 L158.84,374.93 L159.00,374.83 L159.15,375.04 L159.31,374.96 L159.47,375.16 L159.62,374.97 L159.78,374.83 L159.93,374.80 L160.09,374.81 L160.24,374.99 L160.40,375.08" fill="none" stroke="#d92b20" stroke-width="1.2" stroke-linejoin="round" />
<text x="43.3" y="234.8" font-size="6.3" fill="#333" text-anchor="middle" font-weight="normal" >A</text>
<text x="73.5" y="365.8" font-size="6.3" fill="#333" text-anchor="middle" font-weight="normal" >A</text>
<text x="77.2" y="350.8" font-size="6.3" fill="#333" text-anchor="middle" font-weight="normal" >A</text>
<text x="81" y="365.8" font-size="6.3" fill="#333" text-anchor="middle" font-weight="normal" >A</text>
<text x="105.2" y="344.8" font-size="6.3" fill="#333" text-anchor="middle" font-weight="normal" >A</text>
<text x="123.7" y="356.5" font-size="6.3" fill="#333" text-anchor="middle" font-weight="normal" >AA</text>
<text x="145.9" y="362.1" font-size="6.3" fill="#333" text-anchor="middle" font-weight="normal" >A</text>
<path d="M20.20,422.19 L20.36,422.31 L20.51,422.24 L20.67,422.34 L20.82,422.35 L20.98,422.12 L21.13,422.10 L21.29,422.43 L21.45,422.20 L21.60,422.19 L21.76,422.49 L21.91,422.28 L22.07,422.43 L22.23,422.29 L22.38,422.35 L22.54,422.16 L22.69,422.35 L22.85,422.44 L23.00,422.31 L23.16,422.39 L23.32,422.36 L23.47,422.12 L23.63,422.40 L23.78,422.33 L23.94,422.22 L24.09,422.11 L24.25,422.44 L24.41,422.28 L24.56,422.38 L24.72,422.45 L24.87,422.38 L25.03,422.46 L25.18,422.25 L25.34,422.42 L25.50,422.27 L25.65,422.47 L25.81,422.45 L25.96,422.13 L26.12,422.15 L26.28,422.18 L26.43,422.48 L26.59,422.27 L26.74,422.35 L26.90,422.21 L27.05,422.30 L27.21,422.25 L27.37,422.23 L27.52,422.33 L27.68,422.33 L27.83,422.46 L27.99,422.37 L28.14,422.47 L28.30,422.44 L28.46,422.49 L28.61,422.36 L28.77,422.16 L28.92,422.44 L29.08,422.48 L29.24,422.45 L29.39,422.32 L29.55,422.38 L29.70,422.18 L29.86,422.43 L30.01,422.32 L30.17,422.21 L30.33,422.12 L30.48,422.43 L30.64,422.49 L30.79,422.13 L30.95,422.41 L31.10,422.26 L31.26,422.15 L31.42,422.21 L31.57,422.40 L31.73,422.44 L31.88,422.11 L32.04,422.34 L32.19,422.11 L32.35,422.38 L32.51,422.22 L32.66,422.44 L32.82,422.48 L32.97,422.29 L33.13,422.49 L33.29,422.21 L33.44,422.12 L33.60,422.33 L33.75,422.10 L33.91,422.17 L34.06,422.25 L34.22,422.33 L34.38,422.15 L34.53,422.10 L34.69,422.43 L34.84,422.21 L35.00,422.47 L35.15,422.44 L35.31,422.24 L35.47,422.27 L35.62,422.29 L35.78,422.34 L35.93,422.32 L36.09,422.31 L36.25,422.33 L36.40,422.46 L36.56,422.29 L36.71,422.25 L36.87,422.37 L37.02,422.18 L37.18,422.20 L37.34,422.47 L37.49,422.29 L37.65,422.30 L37.80,422.08 L37.96,422.24 L38.11,422.31 L38.27,422.08 L38.43,422.32 L38.58,422.33 L38.74,422.10 L38.89,422.32 L39.05,422.26 L39.20,422.34 L39.36,422.21 L39.52,422.35 L39.67,422.36 L39.83,422.08 L39.98,422.09 L40.14,422.34 L40.30,422.45 L40.45,422.16 L40.61,422.24 L40.76,422.30 L40.92,422.19 L41.07,422.20 L41.23,422.18 L41.39,422.20 L41.54,422.29 L41.70,422.17 L41.85,422.20 L42.01,422.35 L42.16,422.05 L42.32,422.26 L42.48,422.33 L42.63,422.15 L42.79,422.11 L42.94,422.34 L43.10,422.11 L43.26,422.09 L43.41,422.18 L43.57,422.28 L43.72,422.03 L43.88,422.12 L44.03,422.11 L44.19,422.30 L44.35,422.14 L44.50,422.29 L44.66,422.00 L44.81,422.06 L44.97,422.17 L45.12,422.24 L45.28,422.05 L45.44,421.93 L45.59,421.87 L45.75,422.00 L45.90,421.82 L46.06,422.03 L46.21,421.99 L46.37,421.66 L46.53,421.62 L46.68,421.73 L46.84,421.52 L46.99,421.35 L47.15,420.69 L47.31,419.62 L47.46,417.67 L47.62,414.15 L47.77,407.99 L47.93,399.99 L48.08,391.29 L48.24,384.27 L48.40,381.46 L48.55,384.19 L48.71,390.73 L48.86,399.38 L49.02,407.87 L49.17,413.92 L49.33,417.80 L49.49,419.66 L49.64,420.90 L49.80,421.38 L49.95,421.34 L50.11,421.70 L50.27,421.84 L50.42,421.85 L50.58,421.86 L50.73,421.82 L50.89,421.88 L51.04,421.87 L51.20,421.84 L51.36,422.08 L51.51,421.98 L51.67,422.21 L51.82,421.92 L51.98,422.28 L52.13,422.21 L52.29,422.32 L52.45,422.32 L52.60,422.33 L52.76,422.21 L52.91,421.99 L53.07,422.29 L53.22,422.07 L53.38,422.12 L53.54,422.28 L53.69,422.22 L53.85,422.19 L54.00,422.40 L54.16,422.27 L54.32,422.17 L54.47,422.14 L54.63,422.38 L54.78,422.23 L54.94,422.36 L55.09,422.19 L55.25,422.13 L55.41,422.26 L55.56,422.38 L55.72,422.12 L55.87,422.37 L56.03,422.43 L56.18,422.38 L56.34,422.39 L56.50,422.06 L56.65,422.31 L56.81,422.41 L56.96,422.08 L57.12,422.17 L57.28,422.17 L57.43,422.28 L57.59,422.24 L57.74,422.26 L57.90,422.38 L58.05,422.07 L58.21,422.09 L58.37,422.12 L58.52,422.12 L58.68,422.10 L58.83,422.46 L58.99,422.42 L59.14,422.11 L59.30,422.28 L59.46,422.20 L59.61,422.20 L59.77,422.22 L59.92,422.34 L60.08,422.31 L60.23,422.22 L60.39,422.15 L60.55,422.21 L60.70,422.13 L60.86,422.30 L61.01,422.37 L61.17,422.23 L61.33,422.11 L61.48,422.15 L61.64,422.23 L61.79,422.32 L61.95,422.39 L62.10,422.23 L62.26,422.40 L62.42,422.33 L62.57,422.25 L62.73,422.23 L62.88,422.28 L63.04,422.36 L63.19,422.25 L63.35,422.36 L63.51,422.26 L63.66,422.18 L63.82,422.29 L63.97,422.36 L64.13,422.11 L64.29,422.25 L64.44,422.25 L64.60,422.43 L64.75,422.45 L64.91,422.23 L65.06,422.44 L65.22,422.39 L65.38,422.18 L65.53,422.26 L65.69,422.13 L65.84,422.40 L66.00,422.34 L66.15,422.43 L66.31,422.39 L66.47,422.34 L66.62,422.36 L66.78,422.30 L66.93,422.11 L67.09,422.30 L67.24,422.07 L67.40,422.12 L67.56,422.37 L67.71,422.08 L67.87,422.10 L68.02,422.10 L68.18,422.41 L68.34,422.12 L68.49,422.06 L68.65,422.38 L68.80,422.09 L68.96,422.37 L69.11,422.30 L69.27,422.36 L69.43,422.40 L69.58,422.24 L69.74,422.32 L69.89,422.00 L70.05,422.28 L70.20,422.16 L70.36,422.22 L70.52,421.95 L70.67,422.17 L70.83,422.20 L70.98,421.79 L71.14,421.79 L71.30,421.67 L71.45,421.22 L71.61,419.64 L71.76,416.85 L71.92,412.52 L72.07,407.70 L72.23,404.40 L72.39,404.45 L72.54,408.06 L72.70,413.06 L72.85,417.27 L73.01,419.89 L73.16,421.01 L73.32,421.68 L73.48,422.07 L73.63,421.94 L73.79,422.13 L73.94,421.94 L74.10,422.18 L74.25,422.24 L74.41,422.22 L74.57,422.18 L74.72,422.18 L74.88,422.25 L75.03,422.37 L75.19,422.08 L75.35,422.06 L75.50,422.33 L75.66,422.40 L75.81,422.25 L75.97,422.22 L76.12,422.33 L76.28,422.12 L76.44,422.16 L76.59,422.13 L76.75,422.29 L76.90,422.18 L77.06,422.15 L77.21,422.34 L77.37,422.44 L77.53,422.18 L77.68,422.34 L77.84,422.23 L77.99,422.40 L78.15,422.30 L78.31,422.17 L78.46,422.15 L78.62,422.07 L78.77,422.25 L78.93,422.20 L79.08,422.11 L79.24,422.18 L79.40,422.15 L79.55,422.29 L79.71,421.92 L79.86,421.98 L80.02,421.26 L80.17,420.65 L80.33,420.12 L80.49,420.30 L80.64,420.80 L80.80,421.35 L80.95,421.81 L81.11,422.17 L81.26,422.33 L81.42,422.18 L81.58,422.33 L81.73,422.43 L81.89,422.24 L82.04,422.15 L82.20,422.15 L82.36,422.35 L82.51,422.33 L82.67,422.44 L82.82,422.40 L82.98,422.16 L83.13,422.13 L83.29,422.16 L83.45,422.13 L83.60,422.33 L83.76,422.39 L83.91,422.40 L84.07,422.14 L84.22,422.38 L84.38,422.15 L84.54,422.18 L84.69,422.29 L84.85,422.01 L85.00,421.99 L85.16,422.25 L85.32,421.96 L85.47,421.80 L85.63,421.36 L85.78,420.15 L85.94,417.71 L86.09,415.23 L86.25,413.59 L86.41,414.00 L86.56,416.09 L86.72,418.81 L86.87,420.81 L87.03,421.53 L87.18,421.96 L87.34,421.93 L87.50,422.04 L87.65,422.23 L87.81,422.03 L87.96,422.36 L88.12,422.38 L88.27,422.07 L88.43,422.41 L88.59,422.19 L88.74,422.36 L88.90,422.36 L89.05,422.18 L89.21,422.33 L89.37,422.33 L89.52,422.39 L89.68,422.17 L89.83,422.37 L89.99,422.46 L90.14,422.34 L90.30,422.29 L90.46,422.12 L90.61,422.27 L90.77,422.21 L90.92,422.36 L91.08,422.34 L91.23,422.30 L91.39,422.14 L91.55,422.33 L91.70,422.32 L91.86,422.13 L92.01,422.41 L92.17,422.31 L92.33,422.09 L92.48,422.39 L92.64,422.00 L92.79,421.88 L92.95,421.62 L93.10,420.96 L93.26,420.34 L93.42,420.15 L93.57,420.40 L93.73,420.98 L93.88,421.51 L94.04,421.83 L94.19,422.25 L94.35,422.33 L94.51,422.26 L94.66,422.35 L94.82,422.21 L94.97,422.18 L95.13,422.23 L95.28,422.42 L95.44,422.10 L95.60,422.28 L95.75,422.18 L95.91,422.39 L96.06,422.23 L96.22,422.22 L96.38,422.25 L96.53,422.30 L96.69,422.40 L96.84,422.23 L97.00,422.43 L97.15,422.13 L97.31,422.20 L97.47,422.13 L97.62,422.14 L97.78,422.40 L97.93,422.38 L98.09,422.17 L98.24,422.17 L98.40,422.26 L98.56,422.39 L98.71,422.42 L98.87,422.39 L99.02,422.33 L99.18,422.15 L99.34,422.25 L99.49,422.17 L99.65,422.30 L99.80,422.32 L99.96,422.17 L100.11,422.19 L100.27,422.41 L100.43,422.11 L100.58,422.41 L100.74,422.45 L100.89,422.47 L101.05,422.25 L101.20,422.31 L101.36,422.33 L101.52,422.35 L101.67,422.48 L101.83,422.37 L101.98,422.21 L102.14,422.44 L102.29,422.29 L102.45,422.33 L102.61,422.38 L102.76,422.10 L102.92,422.40 L103.07,422.36 L103.23,422.29 L103.39,422.30 L103.54,422.28 L103.70,422.17 L103.85,422.31 L104.01,422.11 L104.16,422.29 L104.32,422.35 L104.48,422.27 L104.63,422.32 L104.79,422.48 L104.94,422.45 L105.10,422.15 L105.25,422.41 L105.41,422.34 L105.57,422.11 L105.72,422.24 L105.88,422.19 L106.03,422.13 L106.19,422.31 L106.35,422.47 L106.50,422.22 L106.66,422.44 L106.81,422.37 L106.97,422.15 L107.12,422.44 L107.28,422.33 L107.44,422.46 L107.59,422.38 L107.75,422.39 L107.90,422.23 L108.06,422.42 L108.21,422.47 L108.37,422.44 L108.53,422.27 L108.68,422.40 L108.84,422.29 L108.99,422.14 L109.15,422.11 L109.30,422.12 L109.46,422.17 L109.62,422.16 L109.77,422.29 L109.93,422.37 L110.08,422.31 L110.24,422.26 L110.40,422.35 L110.55,422.21 L110.71,422.28 L110.86,422.39 L111.02,422.25 L111.17,422.16 L111.33,422.45 L111.49,422.38 L111.64,422.24 L111.80,422.24 L111.95,422.30 L112.11,422.33 L112.26,422.18 L112.42,422.09 L112.58,422.17 L112.73,422.40 L112.89,422.15 L113.04,422.27 L113.20,422.17 L113.36,422.17 L113.51,422.16 L113.67,422.25 L113.82,422.15 L113.98,422.10 L114.13,422.13 L114.29,422.15 L114.45,422.28 L114.60,422.11 L114.76,422.09 L114.91,422.26 L115.07,422.25 L115.22,422.36 L115.38,422.10 L115.54,422.24 L115.69,422.24 L115.85,422.09 L116.00,422.46 L116.16,422.17 L116.31,422.11 L116.47,422.27 L116.63,422.14 L116.78,422.32 L116.94,422.21 L117.09,422.12 L117.25,422.09 L117.41,422.36 L117.56,422.17 L117.72,422.38 L117.87,422.25 L118.03,422.43 L118.18,422.17 L118.34,422.15 L118.50,422.15 L118.65,422.37 L118.81,422.29 L118.96,422.17 L119.12,422.07 L119.27,422.30 L119.43,422.40 L119.59,422.24 L119.74,422.00 L119.90,422.00 L120.05,422.01 L120.21,422.02 L120.37,421.95 L120.52,421.93 L120.68,422.14 L120.83,422.20 L120.99,421.87 L121.14,422.11 L121.30,421.78 L121.46,421.63 L121.61,421.01 L121.77,419.56 L121.92,416.45 L122.08,412.43 L122.23,407.84 L122.39,404.42 L122.55,403.38 L122.70,406.00 L122.86,410.70 L123.01,414.93 L123.17,418.38 L123.32,420.30 L123.48,421.37 L123.64,421.87 L123.79,421.74 L123.95,422.06 L124.10,422.11 L124.26,422.19 L124.42,422.11 L124.57,422.28 L124.73,422.08 L124.88,422.12 L125.04,422.06 L125.19,422.29 L125.35,422.18 L125.51,422.10 L125.66,422.07 L125.82,422.29 L125.97,422.25 L126.13,422.30 L126.28,422.17 L126.44,422.21 L126.60,422.07 L126.75,422.29 L126.91,422.01 L127.06,422.18 L127.22,422.29 L127.38,422.24 L127.53,421.98 L127.69,421.98 L127.84,422.07 L128.00,421.61 L128.15,420.92 L128.31,419.66 L128.47,418.03 L128.62,417.19 L128.78,417.11 L128.93,417.98 L129.09,419.45 L129.24,420.60 L129.40,421.52 L129.56,422.12 L129.71,421.94 L129.87,422.19 L130.02,422.03 L130.18,422.04 L130.33,422.28 L130.49,422.13 L130.65,422.06 L130.80,422.11 L130.96,422.31 L131.11,422.29 L131.27,422.07 L131.43,422.16 L131.58,422.45 L131.74,422.16 L131.89,422.30 L132.05,422.24 L132.20,422.39 L132.36,422.32 L132.52,422.39 L132.67,422.29 L132.83,422.16 L132.98,422.15 L133.14,422.11 L133.29,422.41 L133.45,422.13 L133.61,422.09 L133.76,422.47 L133.92,422.17 L134.07,422.44 L134.23,422.12 L134.39,422.27 L134.54,422.18 L134.70,422.42 L134.85,422.33 L135.01,422.35 L135.16,422.39 L135.32,422.44 L135.48,422.23 L135.63,422.33 L135.79,422.27 L135.94,422.13 L136.10,422.42 L136.25,422.33 L136.41,422.42 L136.57,422.17 L136.72,422.31 L136.88,422.28 L137.03,422.38 L137.19,422.12 L137.34,422.23 L137.50,422.29 L137.66,422.12 L137.81,422.31 L137.97,422.39 L138.12,422.26 L138.28,422.35 L138.44,422.33 L138.59,422.18 L138.75,422.23 L138.90,422.49 L139.06,422.23 L139.21,422.26 L139.37,422.13 L139.53,422.18 L139.68,422.16 L139.84,422.46 L139.99,422.38 L140.15,422.44 L140.30,422.49 L140.46,422.34 L140.62,422.46 L140.77,422.31 L140.93,422.26 L141.08,422.47 L141.24,422.45 L141.40,422.47 L141.55,422.28 L141.71,422.40 L141.86,422.25 L142.02,422.49 L142.17,422.46 L142.33,422.21 L142.49,422.46 L142.64,422.16 L142.80,422.13 L142.95,422.38 L143.11,422.20 L143.26,422.29 L143.42,422.34 L143.58,422.10 L143.73,422.38 L143.89,422.19 L144.04,422.25 L144.20,422.21 L144.35,422.37 L144.51,422.37 L144.67,422.18 L144.82,422.10 L144.98,422.17 L145.13,422.20 L145.29,422.05 L145.45,422.02 L145.60,422.10 L145.76,421.69 L145.91,421.09 L146.07,420.17 L146.22,419.44 L146.38,419.25 L146.54,419.86 L146.69,420.84 L146.85,421.61 L147.00,422.01 L147.16,422.17 L147.31,422.16 L147.47,422.37 L147.63,422.16 L147.78,422.24 L147.94,422.41 L148.09,422.38 L148.25,422.18 L148.41,422.16 L148.56,422.39 L148.72,422.07 L148.87,422.12 L149.03,422.28 L149.18,422.28 L149.34,422.12 L149.50,422.07 L149.65,422.12 L149.81,422.31 L149.96,422.10 L150.12,422.07 L150.27,421.52 L150.43,420.93 L150.59,419.96 L150.74,419.89 L150.90,420.24 L151.05,421.09 L151.21,421.63 L151.36,421.85 L151.52,422.19 L151.68,422.07 L151.83,422.17 L151.99,422.16 L152.14,422.39 L152.30,422.24 L152.46,422.18 L152.61,422.10 L152.77,422.25 L152.92,422.33 L153.08,422.36 L153.23,422.45 L153.39,422.41 L153.55,422.19 L153.70,422.14 L153.86,422.39 L154.01,422.41 L154.17,422.30 L154.32,422.42 L154.48,422.31 L154.64,422.20 L154.79,422.16 L154.95,422.10 L155.10,422.35 L155.26,422.45 L155.42,422.46 L155.57,422.28 L155.73,422.36 L155.88,422.47 L156.04,422.42 L156.19,422.34 L156.35,422.26 L156.51,422.30 L156.66,422.16 L156.82,422.17 L156.97,422.37 L157.13,422.49 L157.28,422.32 L157.44,422.26 L157.60,422.24 L157.75,422.28 L157.91,422.42 L158.06,422.28 L158.22,422.48 L158.37,422.16 L158.53,422.22 L158.69,422.31 L158.84,422.26 L159.00,422.44 L159.15,422.43 L159.31,422.47 L159.47,422.34 L159.62,422.11 L159.78,422.33 L159.93,422.32 L160.09,422.29 L160.24,422.21 L160.40,422.38" fill="none" stroke="#1b6cdc" stroke-width="1.2" stroke-linejoin="round" />
<text x="52.2" y="383.6" font-size="6.3" fill="#333" text-anchor="middle" font-weight="normal" >R</text>
<text x="72.3" y="402.1" font-size="6.3" fill="#333" text-anchor="middle" font-weight="normal" >R</text>
<text x="80.4" y="418.3" font-size="6.3" fill="#333" text-anchor="middle" font-weight="normal" >R</text>
<text x="86" y="411.40000000000003" font-size="6.3" fill="#333" text-anchor="middle" font-weight="normal" >R</text>
<text x="93.4" y="418.3" font-size="6.3" fill="#333" text-anchor="middle" font-weight="normal" >R</text>
<text x="122.5" y="402.40000000000003" font-size="6.3" fill="#333" text-anchor="middle" font-weight="normal" >R</text>
<text x="129.1" y="415.40000000000003" font-size="6.3" fill="#333" text-anchor="middle" font-weight="normal" >R</text>
<text x="148.1" y="418.6" font-size="6.3" fill="#333" text-anchor="middle" font-weight="normal" >RR</text>
<path d="M20.20,467.21 L20.36,467.12 L20.51,467.32 L20.67,467.15 L20.82,467.09 L20.98,467.32 L21.13,467.69 L21.29,467.60 L21.45,467.58 L21.60,467.20 L21.76,467.42 L21.91,467.24 L22.07,467.16 L22.23,467.12 L22.38,467.19 L22.54,467.69 L22.69,467.62 L22.85,467.61 L23.00,467.60 L23.16,467.18 L23.32,467.26 L23.47,467.48 L23.63,467.55 L23.78,467.64 L23.94,467.66 L24.09,467.10 L24.25,467.46 L24.41,467.51 L24.56,467.39 L24.72,467.16 L24.87,467.37 L25.03,467.10 L25.18,467.69 L25.34,467.64 L25.50,467.42 L25.65,467.25 L25.81,467.67 L25.96,467.44 L26.12,467.66 L26.28,467.63 L26.43,467.39 L26.59,467.33 L26.74,467.46 L26.90,467.34 L27.05,467.15 L27.21,467.25 L27.37,467.60 L27.52,467.07 L27.68,467.07 L27.83,467.47 L27.99,467.23 L28.14,467.41 L28.30,467.36 L28.46,467.27 L28.61,467.73 L28.77,467.17 L28.92,467.32 L29.08,467.17 L29.24,467.48 L29.39,467.23 L29.55,467.28 L29.70,467.55 L29.86,467.26 L30.01,467.42 L30.17,467.66 L30.33,467.10 L30.48,467.07 L30.64,467.19 L30.79,467.56 L30.95,467.46 L31.10,467.19 L31.26,467.26 L31.42,467.15 L31.57,467.35 L31.73,467.05 L31.88,467.51 L32.04,467.65 L32.19,467.69 L32.35,467.54 L32.51,467.69 L32.66,467.03 L32.82,467.22 L32.97,467.70 L33.13,467.56 L33.29,467.30 L33.44,467.68 L33.60,467.45 L33.75,467.59 L33.91,467.22 L34.06,467.15 L34.22,467.32 L34.38,467.10 L34.53,467.27 L34.69,467.68 L34.84,467.24 L35.00,467.01 L35.15,467.03 L35.31,467.12 L35.47,467.55 L35.62,467.25 L35.78,467.20 L35.93,467.06 L36.09,467.68 L36.25,467.28 L36.40,467.13 L36.56,467.02 L36.71,467.02 L36.87,467.09 L37.02,467.44 L37.18,467.07 L37.34,466.99 L37.49,467.30 L37.65,467.13 L37.80,467.65 L37.96,467.03 L38.11,467.31 L38.27,467.47 L38.43,467.21 L38.58,467.61 L38.74,467.24 L38.89,467.06 L39.05,467.17 L39.20,466.90 L39.36,467.15 L39.52,467.02 L39.67,467.45 L39.83,467.39 L39.98,467.13 L40.14,466.78 L40.30,466.91 L40.45,466.87 L40.61,466.80 L40.76,466.77 L40.92,467.16 L41.07,466.59 L41.23,466.44 L41.39,466.94 L41.54,466.51 L41.70,466.50 L41.85,465.45 L42.01,464.49 L42.16,461.81 L42.32,457.69 L42.48,451.62 L42.63,444.32 L42.79,437.56 L42.94,433.89 L43.10,434.68 L43.26,438.80 L43.41,444.90 L43.57,450.39 L43.72,454.81 L43.88,456.96 L44.03,457.14 L44.19,456.57 L44.35,455.44 L44.50,454.92 L44.66,454.98 L44.81,455.44 L44.97,457.27 L45.12,459.05 L45.28,460.29 L45.44,462.66 L45.59,464.11 L45.75,465.02 L45.90,465.38 L46.06,466.50 L46.21,466.30 L46.37,467.09 L46.53,467.01 L46.68,466.66 L46.84,466.79 L46.99,467.16 L47.15,467.14 L47.31,467.29 L47.46,467.44 L47.62,466.97 L47.77,466.83 L47.93,467.49 L48.08,466.87 L48.24,467.49 L48.40,466.96 L48.55,467.46 L48.71,467.45 L48.86,467.52 L49.02,467.30 L49.17,467.54 L49.33,467.07 L49.49,467.40 L49.64,467.17 L49.80,467.57 L49.95,467.49 L50.11,467.28 L50.27,467.32 L50.42,466.98 L50.58,466.98 L50.73,467.38 L50.89,467.31 L51.04,467.57 L51.20,467.39 L51.36,467.07 L51.51,467.23 L51.67,467.51 L51.82,467.34 L51.98,466.98 L52.13,467.56 L52.29,467.55 L52.45,467.03 L52.60,467.35 L52.76,467.24 L52.91,467.52 L53.07,467.19 L53.22,467.13 L53.38,467.31 L53.54,467.64 L53.69,467.03 L53.85,467.04 L54.00,467.39 L54.16,467.58 L54.32,467.31 L54.47,467.25 L54.63,467.54 L54.78,467.48 L54.94,466.98 L55.09,467.54 L55.25,467.05 L55.41,467.11 L55.56,467.47 L55.72,467.16 L55.87,467.40 L56.03,466.94 L56.18,467.40 L56.34,466.87 L56.50,466.80 L56.65,466.96 L56.81,466.69 L56.96,466.50 L57.12,466.05 L57.28,464.58 L57.43,461.87 L57.59,458.94 L57.74,455.46 L57.90,452.19 L58.05,450.63 L58.21,450.93 L58.37,453.10 L58.52,456.75 L58.68,460.70 L58.83,463.14 L58.99,465.27 L59.14,466.46 L59.30,466.73 L59.46,467.01 L59.61,467.08 L59.77,466.95 L59.92,467.41 L60.08,467.14 L60.23,467.47 L60.39,467.07 L60.55,467.49 L60.70,467.45 L60.86,467.34 L61.01,467.23 L61.17,467.03 L61.33,467.47 L61.48,467.19 L61.64,467.41 L61.79,467.04 L61.95,467.00 L62.10,467.03 L62.26,467.45 L62.42,466.92 L62.57,467.26 L62.73,466.66 L62.88,466.56 L63.04,466.26 L63.19,466.47 L63.35,466.28 L63.51,466.75 L63.66,467.35 L63.82,466.97 L63.97,467.39 L64.13,467.20 L64.29,467.20 L64.44,467.01 L64.60,467.01 L64.75,467.67 L64.91,467.59 L65.06,467.57 L65.22,467.58 L65.38,467.68 L65.53,467.13 L65.69,467.42 L65.84,467.36 L66.00,467.42 L66.15,467.68 L66.31,467.55 L66.47,467.70 L66.62,467.10 L66.78,467.48 L66.93,467.50 L67.09,467.54 L67.24,467.46 L67.40,467.61 L67.56,467.24 L67.71,467.67 L67.87,467.31 L68.02,467.44 L68.18,467.65 L68.34,467.52 L68.49,467.24 L68.65,467.19 L68.80,467.25 L68.96,467.46 L69.11,467.72 L69.27,467.65 L69.43,467.30 L69.58,467.30 L69.74,467.59 L69.89,467.22 L70.05,467.30 L70.20,467.02 L70.36,467.14 L70.52,467.38 L70.67,467.49 L70.83,467.43 L70.98,467.25 L71.14,467.65 L71.30,467.41 L71.45,467.06 L71.61,466.97 L71.76,467.51 L71.92,467.28 L72.07,466.67 L72.23,465.43 L72.39,463.98 L72.54,462.97 L72.70,463.22 L72.85,464.21 L73.01,465.94 L73.16,466.82 L73.32,467.21 L73.48,466.96 L73.63,467.08 L73.79,467.15 L73.94,467.62 L74.10,467.07 L74.25,467.51 L74.41,467.44 L74.57,467.33 L74.72,467.60 L74.88,467.05 L75.03,467.05 L75.19,466.35 L75.35,465.56 L75.50,464.63 L75.66,464.28 L75.81,464.31 L75.97,465.04 L76.12,466.56 L76.28,466.69 L76.44,467.42 L76.59,467.41 L76.75,467.47 L76.90,467.44 L77.06,467.66 L77.21,467.61 L77.37,467.51 L77.53,467.40 L77.68,467.50 L77.84,467.52 L77.99,467.41 L78.15,467.37 L78.31,467.13 L78.46,467.62 L78.62,467.36 L78.77,467.07 L78.93,467.15 L79.08,467.64 L79.24,467.21 L79.40,467.30 L79.55,467.51 L79.71,467.63 L79.86,467.26 L80.02,467.30 L80.17,467.32 L80.33,467.05 L80.49,467.64 L80.64,467.04 L80.80,467.70 L80.95,467.13 L81.11,467.13 L81.26,467.61 L81.42,467.59 L81.58,467.18 L81.73,467.40 L81.89,467.34 L82.04,467.50 L82.20,467.12 L82.36,467.55 L82.51,467.62 L82.67,467.30 L82.82,467.13 L82.98,466.52 L83.13,465.26 L83.29,464.83 L83.45,464.66 L83.60,465.04 L83.76,465.60 L83.91,466.70 L84.07,467.34 L84.22,467.10 L84.38,467.41 L84.54,467.61 L84.69,467.41 L84.85,467.03 L85.00,467.45 L85.16,467.19 L85.32,467.62 L85.47,467.48 L85.63,467.24 L85.78,467.65 L85.94,467.46 L86.09,467.26 L86.25,467.61 L86.41,467.65 L86.56,467.65 L86.72,467.64 L86.87,467.49 L87.03,467.51 L87.18,467.45 L87.34,467.39 L87.50,467.71 L87.65,467.26 L87.81,467.07 L87.96,467.50 L88.12,467.34 L88.27,467.34 L88.43,467.31 L88.59,466.87 L88.74,466.41 L88.90,465.68 L89.05,465.54 L89.21,465.38 L89.37,465.55 L89.52,465.80 L89.68,467.02 L89.83,467.31 L89.99,467.26 L90.14,466.97 L90.30,467.58 L90.46,467.44 L90.61,467.45 L90.77,467.03 L90.92,467.53 L91.08,467.05 L91.23,467.36 L91.39,467.13 L91.55,467.28 L91.70,467.65 L91.86,467.56 L92.01,467.60 L92.17,467.24 L92.33,467.31 L92.48,467.46 L92.64,467.06 L92.79,467.33 L92.95,467.72 L93.10,467.57 L93.26,467.64 L93.42,467.25 L93.57,467.52 L93.73,467.59 L93.88,467.53 L94.04,467.34 L94.19,467.16 L94.35,467.05 L94.51,467.66 L94.66,467.69 L94.82,467.23 L94.97,467.57 L95.13,467.32 L95.28,467.48 L95.44,467.63 L95.60,467.26 L95.75,467.47 L95.91,467.22 L96.06,467.39 L96.22,467.06 L96.38,467.22 L96.53,467.24 L96.69,467.67 L96.84,467.13 L97.00,467.56 L97.15,467.09 L97.31,467.72 L97.47,467.14 L97.62,467.09 L97.78,467.17 L97.93,467.67 L98.09,467.49 L98.24,467.64 L98.40,467.36 L98.56,467.08 L98.71,467.22 L98.87,467.27 L99.02,467.57 L99.18,466.83 L99.34,466.58 L99.49,466.55 L99.65,465.55 L99.80,465.79 L99.96,465.27 L100.11,465.75 L100.27,466.30 L100.43,466.94 L100.58,466.70 L100.74,467.43 L100.89,467.06 L101.05,467.47 L101.20,467.01 L101.36,467.53 L101.52,467.13 L101.67,467.15 L101.83,467.03 L101.98,467.23 L102.14,467.24 L102.29,467.69 L102.45,467.43 L102.61,467.26 L102.76,467.69 L102.92,467.12 L103.07,467.14 L103.23,467.66 L103.39,467.65 L103.54,467.45 L103.70,467.65 L103.85,466.99 L104.01,467.56 L104.16,467.37 L104.32,467.24 L104.48,467.12 L104.63,466.08 L104.79,465.26 L104.94,464.02 L105.10,463.08 L105.25,462.45 L105.41,462.64 L105.57,463.45 L105.72,464.96 L105.88,466.12 L106.03,466.78 L106.19,466.66 L106.35,466.92 L106.50,467.03 L106.66,467.07 L106.81,467.31 L106.97,467.04 L107.12,467.31 L107.28,467.00 L107.44,466.70 L107.59,466.34 L107.75,465.69 L107.90,464.49 L108.06,464.51 L108.21,465.52 L108.37,465.82 L108.53,466.37 L108.68,466.86 L108.84,467.47 L108.99,467.46 L109.15,467.63 L109.30,467.33 L109.46,467.02 L109.62,467.22 L109.77,467.51 L109.93,467.29 L110.08,467.11 L110.24,467.28 L110.40,467.34 L110.55,467.27 L110.71,467.33 L110.86,467.12 L111.02,467.04 L111.17,467.57 L111.33,467.54 L111.49,467.32 L111.64,467.11 L111.80,467.23 L111.95,467.42 L112.11,467.65 L112.26,467.36 L112.42,467.70 L112.58,467.39 L112.73,467.15 L112.89,467.45 L113.04,467.43 L113.20,467.43 L113.36,467.50 L113.51,466.99 L113.67,467.25 L113.82,467.46 L113.98,466.93 L114.13,466.77 L114.29,466.76 L114.45,466.71 L114.60,466.70 L114.76,466.52 L114.91,466.69 L115.07,466.36 L115.22,466.53 L115.38,466.85 L115.54,466.88 L115.69,467.29 L115.85,467.38 L116.00,467.00 L116.16,467.13 L116.31,467.32 L116.47,467.35 L116.63,467.25 L116.78,467.61 L116.94,467.15 L117.09,467.35 L117.25,467.10 L117.41,467.64 L117.56,467.44 L117.72,467.71 L117.87,467.12 L118.03,467.52 L118.18,467.44 L118.34,467.06 L118.50,467.60 L118.65,467.63 L118.81,467.08 L118.96,467.68 L119.12,467.57 L119.27,467.44 L119.43,467.40 L119.59,467.20 L119.74,467.05 L119.90,467.34 L120.05,467.61 L120.21,467.15 L120.37,467.33 L120.52,467.19 L120.68,467.48 L120.83,467.66 L120.99,467.60 L121.14,467.17 L121.30,467.24 L121.46,466.93 L121.61,467.24 L121.77,467.35 L121.92,467.12 L122.08,466.19 L122.23,465.85 L122.39,464.87 L122.55,464.39 L122.70,464.24 L122.86,463.74 L123.01,464.51 L123.17,465.26 L123.32,465.91 L123.48,466.11 L123.64,467.04 L123.79,467.30 L123.95,467.47 L124.10,466.82 L124.26,466.79 L124.42,466.89 L124.57,466.83 L124.73,466.35 L124.88,465.45 L125.04,464.94 L125.19,464.00 L125.35,463.23 L125.51,462.88 L125.66,463.22 L125.82,464.10 L125.97,464.62 L126.13,465.77 L126.28,466.21 L126.44,466.60 L126.60,467.28 L126.75,467.09 L126.91,467.15 L127.06,467.13 L127.22,467.36 L127.38,467.05 L127.53,467.42 L127.69,467.03 L127.84,467.65 L128.00,467.10 L128.15,467.53 L128.31,467.38 L128.47,467.29 L128.62,467.21 L128.78,467.25 L128.93,467.53 L129.09,467.36 L129.24,467.37 L129.40,467.16 L129.56,467.41 L129.71,467.05 L129.87,467.19 L130.02,467.13 L130.18,466.74 L130.33,466.34 L130.49,465.90 L130.65,465.39 L130.80,465.97 L130.96,466.11 L131.11,466.59 L131.27,467.15 L131.43,467.06 L131.58,467.12 L131.74,467.17 L131.89,467.21 L132.05,467.21 L132.20,467.23 L132.36,467.16 L132.52,467.35 L132.67,467.22 L132.83,467.28 L132.98,467.49 L133.14,467.24 L133.29,467.63 L133.45,467.58 L133.61,467.25 L133.76,467.61 L133.92,467.15 L134.07,467.09 L134.23,467.72 L134.39,467.05 L134.54,467.03 L134.70,467.63 L134.85,467.02 L135.01,467.48 L135.16,467.40 L135.32,467.16 L135.48,467.16 L135.63,467.63 L135.79,467.19 L135.94,467.02 L136.10,467.07 L136.25,467.17 L136.41,466.74 L136.57,466.48 L136.72,466.87 L136.88,466.32 L137.03,466.28 L137.19,466.28 L137.34,467.06 L137.50,466.77 L137.66,467.11 L137.81,467.10 L137.97,467.49 L138.12,467.12 L138.28,467.18 L138.44,467.45 L138.59,467.00 L138.75,467.26 L138.90,467.55 L139.06,467.42 L139.21,467.37 L139.37,467.68 L139.53,467.33 L139.68,467.54 L139.84,467.30 L139.99,467.09 L140.15,467.30 L140.30,467.18 L140.46,467.05 L140.62,467.23 L140.77,467.12 L140.93,467.35 L141.08,467.55 L141.24,467.56 L141.40,467.65 L141.55,467.25 L141.71,467.50 L141.86,467.65 L142.02,467.31 L142.17,467.67 L142.33,467.10 L142.49,467.67 L142.64,467.64 L142.80,467.71 L142.95,467.60 L143.11,467.52 L143.26,467.32 L143.42,467.51 L143.58,467.62 L143.73,467.39 L143.89,467.39 L144.04,467.54 L144.20,466.97 L144.35,466.81 L144.51,466.33 L144.67,466.62 L144.82,466.19 L144.98,466.11 L145.13,465.87 L145.29,466.05 L145.45,466.55 L145.60,467.12 L145.76,466.97 L145.91,467.15 L146.07,467.23 L146.22,467.56 L146.38,467.07 L146.54,467.60 L146.69,467.01 L146.85,467.49 L147.00,467.53 L147.16,467.33 L147.31,467.51 L147.47,467.19 L147.63,467.08 L147.78,467.23 L147.94,467.14 L148.09,467.42 L148.25,467.24 L148.41,467.18 L148.56,467.18 L148.72,466.73 L148.87,466.36 L149.03,466.07 L149.18,465.69 L149.34,465.37 L149.50,465.12 L149.65,465.46 L149.81,466.01 L149.96,466.44 L150.12,466.90 L150.27,467.07 L150.43,467.21 L150.59,467.03 L150.74,467.35 L150.90,467.08 L151.05,467.41 L151.21,467.09 L151.36,466.98 L151.52,467.63 L151.68,467.56 L151.83,467.14 L151.99,466.90 L152.14,467.34 L152.30,467.13 L152.46,466.43 L152.61,466.53 L152.77,466.14 L152.92,465.57 L153.08,465.10 L153.23,464.88 L153.39,465.04 L153.55,465.64 L153.70,466.24 L153.86,466.58 L154.01,466.62 L154.17,467.25 L154.32,466.88 L154.48,467.35 L154.64,467.08 L154.79,466.99 L154.95,467.13 L155.10,467.56 L155.26,467.16 L155.42,467.02 L155.57,467.35 L155.73,467.26 L155.88,467.42 L156.04,467.43 L156.19,467.52 L156.35,467.67 L156.51,467.27 L156.66,467.48 L156.82,467.12 L156.97,467.21 L157.13,467.10 L157.28,467.64 L157.44,467.27 L157.60,467.53 L157.75,467.65 L157.91,467.31 L158.06,467.18 L158.22,467.21 L158.37,467.38 L158.53,467.31 L158.69,467.09 L158.84,467.64 L159.00,467.49 L159.15,467.65 L159.31,467.63 L159.47,467.55 L159.62,467.62 L159.78,467.54 L159.93,467.34 L160.09,467.62 L160.24,467.69 L160.40,467.12" fill="none" stroke="#27a04e" stroke-width="1.3" stroke-linejoin="round" />
<text x="43" y="431.8" font-size="6.3" fill="#333" text-anchor="middle" font-weight="normal" >B</text>
<text x="47" y="445.3" font-size="6.3" fill="#333" text-anchor="middle" font-weight="normal" >B</text>
<text x="58.1" y="448.90000000000003" font-size="6.3" fill="#333" text-anchor="middle" font-weight="normal" >B</text>
<text x="72.5" y="460.5" font-size="6.3" fill="#333" text-anchor="middle" font-weight="normal" >B</text>
<text x="76.2" y="461.1" font-size="6.3" fill="#333" text-anchor="middle" font-weight="normal" >B</text>
<text x="83.4" y="461.5" font-size="6.3" fill="#333" text-anchor="middle" font-weight="normal" >B</text>
<text x="89.2" y="462.40000000000003" font-size="6.3" fill="#333" text-anchor="middle" font-weight="normal" >B</text>
<text x="99.5" y="462.8" font-size="6.3" fill="#333" text-anchor="middle" font-weight="normal" >B</text>
<text x="104.6" y="458.8" font-size="6.3" fill="#333" text-anchor="middle" font-weight="normal" >B</text>
<text x="105.5" y="461.8" font-size="6.3" fill="#333" text-anchor="middle" font-weight="normal" >B</text>
<text x="109.4" y="462.40000000000003" font-size="6.3" fill="#333" text-anchor="middle" font-weight="normal" >B</text>
<text x="123.9" y="461.5" font-size="6.3" fill="#333" text-anchor="middle" font-weight="normal" >BB</text>
<text x="130.7" y="463.5" font-size="6.3" fill="#333" text-anchor="middle" font-weight="normal" >B</text>
<text x="149" y="463.5" font-size="6.3" fill="#333" text-anchor="middle" font-weight="normal" >BBB</text>
<path d="M171.3,477.8 V220.75 H313.0 V477.8 H171.3" fill="none" stroke="#262626" stroke-width="1.3"/>
<line x1="171.3" y1="477.8" x2="171.3" y2="480.0" stroke="#262626" stroke-width="1.0" />
<line x1="189.01250000000002" y1="477.8" x2="189.01250000000002" y2="480.0" stroke="#262626" stroke-width="1.0" />
<line x1="206.72500000000002" y1="477.8" x2="206.72500000000002" y2="480.0" stroke="#262626" stroke-width="1.0" />
<line x1="224.4375" y1="477.8" x2="224.4375" y2="480.0" stroke="#262626" stroke-width="1.0" />
<line x1="242.15" y1="477.8" x2="242.15" y2="480.0" stroke="#262626" stroke-width="1.0" />
<line x1="259.8625" y1="477.8" x2="259.8625" y2="480.0" stroke="#262626" stroke-width="1.0" />
<line x1="277.57500000000005" y1="477.8" x2="277.57500000000005" y2="480.0" stroke="#262626" stroke-width="1.0" />
<line x1="295.2875" y1="477.8" x2="295.2875" y2="480.0" stroke="#262626" stroke-width="1.0" />
<line x1="313.0" y1="477.8" x2="313.0" y2="480.0" stroke="#262626" stroke-width="1.0" />
<text x="173.8" y="493" font-size="7.9" fill="#6a6a6a" text-anchor="middle" font-weight="normal" transform="rotate(-90 173.8 493)" stroke="#6a6a6a" stroke-width="0.12">100</text>
<text x="209.22500000000002" y="493" font-size="7.9" fill="#6a6a6a" text-anchor="middle" font-weight="normal" transform="rotate(-90 209.22500000000002 493)" stroke="#6a6a6a" stroke-width="0.12">300</text>
<text x="244.65" y="493" font-size="7.9" fill="#6a6a6a" text-anchor="middle" font-weight="normal" transform="rotate(-90 244.65 493)" stroke="#6a6a6a" stroke-width="0.12">500</text>
<text x="280.07500000000005" y="493" font-size="7.9" fill="#6a6a6a" text-anchor="middle" font-weight="normal" transform="rotate(-90 280.07500000000005 493)" stroke="#6a6a6a" stroke-width="0.12">700</text>
<text x="315.5" y="493" font-size="7.9" fill="#6a6a6a" text-anchor="middle" font-weight="normal" transform="rotate(-90 315.5 493)" stroke="#6a6a6a" stroke-width="0.12">900</text>
<path d="M171.30,310.65 L171.55,310.63 L171.80,310.57 L172.05,310.50 L172.30,310.43 L172.55,310.35 L172.80,310.26 L173.05,310.17 L173.30,310.06 L173.55,309.93 L173.80,309.77 L174.05,309.57 L174.30,309.31 L174.55,308.97 L174.80,308.56 L175.05,308.03 L175.30,307.33 L175.55,306.45 L175.80,305.36 L176.05,304.08 L176.30,302.62 L176.55,301.03 L176.80,299.39 L177.05,297.80 L177.30,296.37 L177.55,295.20 L177.80,294.34 L178.05,293.78 L178.30,293.42 L178.55,293.12 L178.80,292.71 L179.05,291.98 L179.30,290.60 L179.55,288.10 L179.80,283.95 L180.05,277.74 L180.30,269.47 L180.55,260.00 L180.80,251.45 L181.05,247.24 L181.30,249.91 L181.55,258.24 L181.80,268.76 L182.05,278.76 L182.30,286.93 L182.55,292.99 L182.80,297.21 L183.05,300.12 L183.30,302.19 L183.55,303.76 L183.80,305.01 L184.05,306.05 L184.30,306.92 L184.55,307.66 L184.80,308.27 L185.05,308.79 L185.30,309.21 L185.55,309.55 L185.80,309.82 L186.05,310.03 L186.30,310.21 L186.55,310.34 L186.80,310.45 L187.05,310.54 L187.30,310.60 L187.55,310.65 L187.80,310.68 L188.05,310.68 L188.30,310.65 L188.55,310.59 L188.80,310.48 L189.05,310.34 L189.30,310.19 L189.55,310.06 L189.80,310.00 L190.05,310.02 L190.30,310.07 L190.55,310.10 L190.80,310.04 L191.05,309.86 L191.30,309.59 L191.55,309.29 L191.80,309.05 L192.05,309.01 L192.30,309.19 L192.55,309.54 L192.80,309.93 L193.05,310.30 L193.30,310.59 L193.55,310.79 L193.80,310.91 L194.05,310.98 L194.30,310.98 L194.55,310.90 L194.80,310.79 L195.05,310.67 L195.30,310.50 L195.55,310.27 L195.80,309.94 L196.05,309.47 L196.30,308.81 L196.55,307.92 L196.80,306.81 L197.05,305.52 L197.30,304.17 L197.55,302.94 L197.80,302.07 L198.05,301.80 L198.30,302.17 L198.55,303.06 L198.80,304.21 L199.05,305.40 L199.30,306.47 L199.55,307.34 L199.80,307.98 L200.05,308.45 L200.30,308.75 L200.55,308.92 L200.80,309.01 L201.05,309.04 L201.30,309.02 L201.55,308.98 L201.80,308.90 L202.05,308.79 L202.30,308.63 L202.55,308.42 L202.80,308.16 L203.05,307.85 L203.30,307.49 L203.55,307.11 L203.80,306.74 L204.05,306.40 L204.30,306.14 L204.55,306.01 L204.80,306.02 L205.05,306.16 L205.30,306.40 L205.55,306.69 L205.80,307.00 L206.05,307.29 L206.30,307.54 L206.55,307.74 L206.80,307.88 L207.05,307.97 L207.30,308.05 L207.55,308.06 L207.80,308.01 L208.05,307.88 L208.30,307.65 L208.55,307.33 L208.80,306.87 L209.05,306.26 L209.30,305.49 L209.55,304.56 L209.80,303.47 L210.05,302.27 L210.30,300.99 L210.55,299.73 L210.80,298.59 L211.05,297.68 L211.30,297.12 L211.55,297.02 L211.80,297.38 L212.05,298.15 L212.30,299.24 L212.55,300.51 L212.80,301.86 L213.05,303.18 L213.30,304.41 L213.55,305.51 L213.80,306.44 L214.05,307.22 L214.30,307.83 L214.55,308.31 L214.80,308.67 L215.05,308.94 L215.30,309.14 L215.55,309.28 L215.80,309.38 L216.05,309.44 L216.30,309.47 L216.55,309.46 L216.80,309.34 L217.05,309.13 L217.30,308.78 L217.55,308.26 L217.80,307.52 L218.05,306.55 L218.30,305.40 L218.55,304.15 L218.80,302.98 L219.05,302.12 L219.30,301.80 L219.55,302.12 L219.80,302.97 L220.05,304.13 L220.30,305.37 L220.55,306.52 L220.80,307.49 L221.05,308.22 L221.30,308.75 L221.55,309.10 L221.80,309.31 L222.05,309.44 L222.30,309.52 L222.55,309.56 L222.80,309.58 L223.05,309.58 L223.30,309.57 L223.55,309.55 L223.80,309.52 L224.05,309.50 L224.30,309.45 L224.55,309.34 L224.80,309.18 L225.05,308.95 L225.30,308.66 L225.55,308.32 L225.80,307.96 L226.05,307.62 L226.30,307.35 L226.55,307.20 L226.80,307.23 L227.05,307.44 L227.30,307.78 L227.55,308.21 L227.80,308.67 L228.05,309.11 L228.30,309.51 L228.55,309.84 L228.80,310.12 L229.05,310.34 L229.30,310.50 L229.55,310.63 L229.80,310.72 L230.05,310.80 L230.30,310.86 L230.55,310.84 L230.80,310.81 L231.05,310.78 L231.30,310.74 L231.55,310.69 L231.80,310.63 L232.05,310.56 L232.30,310.47 L232.55,310.35 L232.80,310.20 L233.05,310.00 L233.30,309.74 L233.55,309.42 L233.80,309.03 L234.05,308.56 L234.30,308.03 L234.55,307.44 L234.80,306.82 L235.05,306.20 L235.30,305.64 L235.55,305.19 L235.80,304.89 L236.05,304.80 L236.30,304.92 L236.55,305.22 L236.80,305.66 L237.05,306.19 L237.30,306.75 L237.55,307.30 L237.80,307.81 L238.05,308.26 L238.30,308.64 L238.55,308.94 L238.80,309.18 L239.05,309.36 L239.30,309.49 L239.55,309.58 L239.80,309.63 L240.05,309.66 L240.30,309.66 L240.55,309.63 L240.80,309.58 L241.05,309.48 L241.30,309.34 L241.55,309.15 L241.80,308.90 L242.05,308.61 L242.30,308.29 L242.55,307.97 L242.80,307.70 L243.05,307.54 L243.30,307.51 L243.55,307.62 L243.80,307.85 L244.05,308.13 L244.30,308.43 L244.55,308.70 L244.80,308.93 L245.05,309.10 L245.30,309.23 L245.55,309.31 L245.80,309.34 L246.05,309.34 L246.30,309.31 L246.55,309.27 L246.80,309.20 L247.05,309.11 L247.30,308.99 L247.55,308.82 L247.80,308.61 L248.05,308.34 L248.30,307.99 L248.55,307.57 L248.80,307.08 L249.05,306.51 L249.30,305.89 L249.55,305.25 L249.80,304.62 L250.05,304.06 L250.30,303.62 L250.55,303.36 L250.80,303.31 L251.05,303.47 L251.30,303.83 L251.55,304.32 L251.80,304.88 L252.05,305.47 L252.30,306.04 L252.55,306.57 L252.80,307.02 L253.05,307.40 L253.30,307.71 L253.55,307.94 L253.80,308.11 L254.05,308.23 L254.30,308.31 L254.55,308.36 L254.80,308.41 L255.05,308.48 L255.30,308.54 L255.55,308.58 L255.80,308.60 L256.05,308.60 L256.30,308.57 L256.55,308.51 L256.80,308.42 L257.05,308.32 L257.30,308.23 L257.55,308.19 L257.80,308.22 L258.05,308.34 L258.30,308.50 L258.55,308.68 L258.80,308.86 L259.05,309.01 L259.30,309.14 L259.55,309.23 L259.80,309.30 L260.05,309.36 L260.30,309.40 L260.55,309.44 L260.80,309.47 L261.05,309.48 L261.30,309.50 L261.55,309.50 L261.80,309.50 L262.05,309.49 L262.30,309.47 L262.55,309.44 L262.80,309.38 L263.05,309.30 L263.30,309.18 L263.55,309.03 L263.80,308.83 L264.05,308.57 L264.30,308.24 L264.55,307.86 L264.80,307.40 L265.05,306.88 L265.30,306.30 L265.55,305.69 L265.80,305.06 L266.05,304.44 L266.30,303.88 L266.55,303.42 L266.80,303.11 L267.05,303.00 L267.30,303.09 L267.55,303.39 L267.80,303.86 L268.05,304.45 L268.30,305.12 L268.55,305.81 L268.80,306.50 L269.05,307.16 L269.30,307.77 L269.55,308.32 L269.80,308.80 L270.05,309.21 L270.30,309.56 L270.55,309.85 L270.80,310.09 L271.05,310.29 L271.30,310.45 L271.55,310.58 L271.80,310.69 L272.05,310.78 L272.30,310.86 L272.55,310.94 L272.80,311.00 L273.05,311.06 L273.30,311.11 L273.55,311.16 L273.80,311.21 L274.05,311.26 L274.30,311.31 L274.55,311.35 L274.80,311.39 L275.05,311.45 L275.30,311.53 L275.55,311.60 L275.80,311.67 L276.05,311.74 L276.30,311.81 L276.55,311.88 L276.80,311.95 L277.05,312.02 L277.30,312.09 L277.55,312.16 L277.80,312.23 L278.05,312.30 L278.30,312.37 L278.55,312.43 L278.80,312.50 L279.05,312.57 L279.30,312.63 L279.55,312.70 L279.80,312.77 L280.05,312.83 L280.30,312.85 L280.55,312.87 L280.80,312.89 L281.05,312.92 L281.30,312.94 L281.55,312.96 L281.80,312.99 L282.05,313.01 L282.30,313.03 L282.55,313.05 L282.80,313.07 L283.05,313.10 L283.30,313.12 L283.55,313.14 L283.80,313.16 L284.05,313.19 L284.30,313.21 L284.55,313.23 L284.80,313.25 L285.05,313.27 L285.30,313.29 L285.55,313.32 L285.80,313.34 L286.05,313.36 L286.30,313.38 L286.55,313.40 L286.80,313.42 L287.05,313.45 L287.30,313.47 L287.55,313.49 L287.80,313.51 L288.05,313.53 L288.30,313.55 L288.55,313.57 L288.80,313.60 L289.05,313.62 L289.30,313.64 L289.55,313.66 L289.80,313.68 L290.05,313.70 L290.30,313.72 L290.55,313.74 L290.80,313.77 L291.05,313.79 L291.30,313.81 L291.55,313.83 L291.80,313.85 L292.05,313.87 L292.30,313.89 L292.55,313.91 L292.80,313.93 L293.05,313.96 L293.30,313.98 L293.55,314.00 L293.80,314.02 L294.05,314.04 L294.30,314.06 L294.55,314.08 L294.80,314.10 L295.05,314.12 L295.30,314.14 L295.55,314.17 L295.80,314.19 L296.05,314.21 L296.30,314.23 L296.55,314.25 L296.80,314.27 L297.05,314.29 L297.30,314.31 L297.55,314.33 L297.80,314.35 L298.05,314.38 L298.30,314.40 L298.55,314.42 L298.80,314.44 L299.05,314.46 L299.30,314.48 L299.55,314.50 L299.80,314.52 L300.05,314.54 L300.30,314.56 L300.55,314.58 L300.80,314.61 L301.05,314.63 L301.30,314.65 L301.55,314.67 L301.80,314.69 L302.05,314.71 L302.30,314.73 L302.55,314.75 L302.80,314.77 L303.05,314.79 L303.30,314.81 L303.55,314.84 L303.80,314.86 L304.05,314.88 L304.30,314.90 L304.55,314.92 L304.80,314.94 L305.05,314.96 L305.30,314.98 L305.55,315.00 L305.80,315.02 L306.05,315.04 L306.30,315.06 L306.55,315.09 L306.80,315.11 L307.05,315.13 L307.30,315.15 L307.55,315.17 L307.80,315.19 L308.05,315.21 L308.30,315.23 L308.55,315.25 L308.80,315.27 L309.05,315.29 L309.30,315.31 L309.55,315.34 L309.80,315.36 L310.05,315.38 L310.30,315.40 L310.55,315.42 L310.80,315.44 L311.05,315.46 L311.30,315.48 L311.55,315.50 L311.80,315.52 L312.05,315.54 L312.30,315.56 L312.55,315.59 L312.80,315.59" fill="none" stroke="#27a04e" stroke-width="1.4" stroke-linejoin="round" />
<path d="M171.30,377.45 L171.55,377.45 L171.80,377.45 L172.05,377.45 L172.30,377.45 L172.55,377.45 L172.80,377.45 L173.05,377.45 L173.30,377.45 L173.55,377.46 L173.80,377.46 L174.05,377.46 L174.30,377.46 L174.55,377.46 L174.80,377.46 L175.05,377.46 L175.30,377.46 L175.55,377.46 L175.80,377.46 L176.05,377.46 L176.30,377.47 L176.55,377.47 L176.80,377.47 L177.05,377.47 L177.30,377.47 L177.55,377.47 L177.80,377.47 L178.05,377.47 L178.30,377.47 L178.55,377.47 L178.80,377.47 L179.05,377.46 L179.30,377.46 L179.55,377.46 L179.80,377.46 L180.05,377.46 L180.30,377.46 L180.55,377.45 L180.80,377.45 L181.05,377.44 L181.30,377.44 L181.55,377.43 L181.80,377.43 L182.05,377.42 L182.30,377.41 L182.55,377.40 L182.80,377.38 L183.05,377.35 L183.30,377.32 L183.55,377.28 L183.80,377.24 L184.05,377.20 L184.30,377.16 L184.55,377.12 L184.80,377.07 L185.05,377.02 L185.30,376.96 L185.55,376.91 L185.80,376.85 L186.05,376.78 L186.30,376.71 L186.55,376.64 L186.80,376.56 L187.05,376.48 L187.30,376.39 L187.55,376.30 L187.80,376.20 L188.05,376.10 L188.30,375.99 L188.55,375.87 L188.80,375.76 L189.05,375.63 L189.30,375.50 L189.55,375.37 L189.80,375.23 L190.05,375.09 L190.30,374.94 L190.55,374.79 L190.80,374.64 L191.05,374.48 L191.30,374.32 L191.55,374.16 L191.80,374.00 L192.05,373.84 L192.30,373.69 L192.55,373.53 L192.80,373.38 L193.05,373.23 L193.30,373.08 L193.55,372.94 L193.80,372.81 L194.05,372.69 L194.30,372.58 L194.55,372.47 L194.80,372.38 L195.05,372.30 L195.30,372.23 L195.55,372.17 L195.80,372.13 L196.05,372.10 L196.30,372.09 L196.55,372.09 L196.80,372.10 L197.05,372.13 L197.30,372.17 L197.55,372.23 L197.80,372.29 L198.05,372.36 L198.30,372.45 L198.55,372.54 L198.80,372.64 L199.05,372.75 L199.30,372.86 L199.55,372.97 L199.80,373.09 L200.05,373.22 L200.30,373.34 L200.55,373.46 L200.80,373.59 L201.05,373.71 L201.30,373.83 L201.55,373.95 L201.80,374.07 L202.05,374.18 L202.30,374.29 L202.55,374.39 L202.80,374.49 L203.05,374.59 L203.30,374.68 L203.55,374.76 L203.80,374.84 L204.05,374.92 L204.30,374.99 L204.55,375.05 L204.80,375.11 L205.05,375.16 L205.30,375.21 L205.55,375.26 L205.80,375.30 L206.05,375.33 L206.30,375.36 L206.55,375.39 L206.80,375.41 L207.05,375.43 L207.30,375.45 L207.55,375.46 L207.80,375.47 L208.05,375.48 L208.30,375.49 L208.55,375.49 L208.80,375.49 L209.05,375.49 L209.30,375.49 L209.55,375.49 L209.80,375.48 L210.05,375.48 L210.30,375.47 L210.55,375.46 L210.80,375.45 L211.05,375.44 L211.30,375.43 L211.55,375.42 L211.80,375.41 L212.05,375.39 L212.30,375.38 L212.55,375.37 L212.80,375.35 L213.05,375.34 L213.30,375.33 L213.55,375.31 L213.80,375.30 L214.05,375.28 L214.30,375.26 L214.55,375.25 L214.80,375.23 L215.05,375.22 L215.30,375.20 L215.55,375.18 L215.80,375.17 L216.05,375.15 L216.30,375.13 L216.55,375.11 L216.80,375.10 L217.05,375.08 L217.30,375.06 L217.55,375.04 L217.80,375.03 L218.05,375.02 L218.30,375.01 L218.55,375.00 L218.80,374.99 L219.05,374.98 L219.30,374.97 L219.55,374.95 L219.80,374.94 L220.05,374.93 L220.30,374.92 L220.55,374.91 L220.80,374.89 L221.05,374.88 L221.30,374.87 L221.55,374.85 L221.80,374.84 L222.05,374.82 L222.30,374.81 L222.55,374.79 L222.80,374.77 L223.05,374.76 L223.30,374.74 L223.55,374.72 L223.80,374.70 L224.05,374.68 L224.30,374.68 L224.55,374.67 L224.80,374.66 L225.05,374.66 L225.30,374.65 L225.55,374.63 L225.80,374.62 L226.05,374.60 L226.30,374.58 L226.55,374.55 L226.80,374.51 L227.05,374.46 L227.30,374.41 L227.55,374.33 L227.80,374.24 L228.05,374.13 L228.30,373.99 L228.55,373.81 L228.80,373.59 L229.05,373.32 L229.30,373.00 L229.55,372.62 L229.80,372.18 L230.05,371.67 L230.30,371.10 L230.55,370.46 L230.80,369.76 L231.05,369.02 L231.30,368.25 L231.55,367.47 L231.80,366.71 L232.05,365.99 L232.30,365.37 L232.55,364.87 L232.80,364.54 L233.05,364.40 L233.30,364.47 L233.55,364.75 L233.80,365.20 L234.05,365.80 L234.30,366.51 L234.55,367.27 L234.80,368.07 L235.05,368.87 L235.30,369.64 L235.55,370.38 L235.80,371.06 L236.05,371.68 L236.30,372.24 L236.55,372.72 L236.80,373.15 L237.05,373.51 L237.30,373.82 L237.55,374.07 L237.80,374.29 L238.05,374.46 L238.30,374.61 L238.55,374.72 L238.80,374.82 L239.05,374.91 L239.30,374.97 L239.55,375.03 L239.80,375.08 L240.05,375.13 L240.30,375.17 L240.55,375.21 L240.80,375.24 L241.05,375.27 L241.30,375.29 L241.55,375.30 L241.80,375.32 L242.05,375.33 L242.30,375.33 L242.55,375.34 L242.80,375.35 L243.05,375.35 L243.30,375.36 L243.55,375.36 L243.80,375.37 L244.05,375.37 L244.30,375.37 L244.55,375.37 L244.80,375.37 L245.05,375.37 L245.30,375.37 L245.55,375.37 L245.80,375.37 L246.05,375.37 L246.30,375.37 L246.55,375.37 L246.80,375.36 L247.05,375.36 L247.30,375.36 L247.55,375.35 L247.80,375.35 L248.05,375.34 L248.30,375.34 L248.55,375.33 L248.80,375.32 L249.05,375.32 L249.30,375.31 L249.55,375.30 L249.80,375.29 L250.05,375.28 L250.30,375.27 L250.55,375.26 L250.80,375.25 L251.05,375.23 L251.30,375.22 L251.55,375.21 L251.80,375.19 L252.05,375.17 L252.30,375.16 L252.55,375.14 L252.80,375.12 L253.05,375.09 L253.30,375.07 L253.55,375.04 L253.80,375.01 L254.05,374.98 L254.30,374.94 L254.55,374.90 L254.80,374.85 L255.05,374.80 L255.30,374.73 L255.55,374.65 L255.80,374.55 L256.05,374.45 L256.30,374.33 L256.55,374.19 L256.80,374.02 L257.05,373.81 L257.30,373.56 L257.55,373.27 L257.80,372.93 L258.05,372.53 L258.30,372.07 L258.55,371.56 L258.80,370.99 L259.05,370.37 L259.30,369.70 L259.55,368.99 L259.80,368.25 L260.05,367.50 L260.30,366.76 L260.55,366.04 L260.80,365.39 L261.05,364.81 L261.30,364.36 L261.55,364.05 L261.80,363.91 L262.05,363.94 L262.30,364.16 L262.55,364.54 L262.80,365.06 L263.05,365.69 L263.30,366.40 L263.55,367.16 L263.80,367.94 L264.05,368.73 L264.30,369.50 L264.55,370.24 L264.80,370.94 L265.05,371.59 L265.30,372.19 L265.55,372.73 L265.80,373.21 L266.05,373.63 L266.30,374.00 L266.55,374.33 L266.80,374.61 L267.05,374.84 L267.30,375.05 L267.55,375.22 L267.80,375.37 L268.05,375.49 L268.30,375.60 L268.55,375.69 L268.80,375.77 L269.05,375.84 L269.30,375.91 L269.55,375.97 L269.80,376.02 L270.05,376.07 L270.30,376.11 L270.55,376.16 L270.80,376.20 L271.05,376.23 L271.30,376.27 L271.55,376.31 L271.80,376.34 L272.05,376.37 L272.30,376.42 L272.55,376.47 L272.80,376.53 L273.05,376.58 L273.30,376.63 L273.55,376.69 L273.80,376.74 L274.05,376.79 L274.30,376.84 L274.55,376.90 L274.80,376.95 L275.05,377.00 L275.30,377.05 L275.55,377.10 L275.80,377.15 L276.05,377.19 L276.30,377.24 L276.55,377.29 L276.80,377.34 L277.05,377.39 L277.30,377.44 L277.55,377.48 L277.80,377.53 L278.05,377.58 L278.30,377.63 L278.55,377.67 L278.80,377.72 L279.05,377.77 L279.30,377.81 L279.55,377.86 L279.80,377.91 L280.05,377.95 L280.30,378.00 L280.55,378.04 L280.80,378.09 L281.05,378.14 L281.30,378.18 L281.55,378.23 L281.80,378.27 L282.05,378.32 L282.30,378.36 L282.55,378.41 L282.80,378.45 L283.05,378.50 L283.30,378.54 L283.55,378.59 L283.80,378.63 L284.05,378.68 L284.30,378.72 L284.55,378.76 L284.80,378.79 L285.05,378.83 L285.30,378.86 L285.55,378.90 L285.80,378.93 L286.05,378.97 L286.30,379.00 L286.55,379.04 L286.80,379.07 L287.05,379.10 L287.30,379.14 L287.55,379.17 L287.80,379.21 L288.05,379.24 L288.30,379.28 L288.55,379.31 L288.80,379.34 L289.05,379.38 L289.30,379.41 L289.55,379.45 L289.80,379.48 L290.05,379.52 L290.30,379.55 L290.55,379.58 L290.80,379.62 L291.05,379.65 L291.30,379.69 L291.55,379.72 L291.80,379.75 L292.05,379.79 L292.30,379.82 L292.55,379.86 L292.80,379.89 L293.05,379.92 L293.30,379.96 L293.55,379.99 L293.80,380.03 L294.05,380.06 L294.30,380.09 L294.55,380.13 L294.80,380.16 L295.05,380.20 L295.30,380.23 L295.55,380.26 L295.80,380.30 L296.05,380.33 L296.30,380.36 L296.55,380.40 L296.80,380.43 L297.05,380.47 L297.30,380.50 L297.55,380.53 L297.80,380.57 L298.05,380.58 L298.30,380.59 L298.55,380.61 L298.80,380.62 L299.05,380.64 L299.30,380.65 L299.55,380.66 L299.80,380.68 L300.05,380.69 L300.30,380.71 L300.55,380.72 L300.80,380.73 L301.05,380.75 L301.30,380.76 L301.55,380.77 L301.80,380.79 L302.05,380.80 L302.30,380.82 L302.55,380.83 L302.80,380.84 L303.05,380.86 L303.30,380.87 L303.55,380.89 L303.80,380.90 L304.05,380.91 L304.30,380.93 L304.55,380.94 L304.80,380.95 L305.05,380.97 L305.30,380.98 L305.55,381.00 L305.80,381.01 L306.05,381.02 L306.30,381.04 L306.55,381.05 L306.80,381.06 L307.05,381.08 L307.30,381.09 L307.55,381.11 L307.80,381.12 L308.05,381.13 L308.30,381.15 L308.55,381.16 L308.80,381.17 L309.05,381.19 L309.30,381.20 L309.55,381.21 L309.80,381.23 L310.05,381.24 L310.30,381.26 L310.55,381.27 L310.80,381.28 L311.05,381.30 L311.30,381.31 L311.55,381.32 L311.80,381.34 L312.05,381.35 L312.30,381.37 L312.55,381.38 L312.80,381.38" fill="none" stroke="#1b6cdc" stroke-width="1.4" stroke-linejoin="round" />
<path d="M171.30,466.73 L171.50,466.72 L171.70,466.71 L171.90,466.70 L172.10,466.68 L172.30,466.66 L172.50,466.64 L172.70,466.60 L172.90,466.55 L173.10,466.49 L173.30,466.41 L173.50,466.32 L173.70,466.19 L173.90,466.05 L174.10,465.87 L174.30,465.65 L174.50,465.39 L174.70,465.09 L174.90,464.74 L175.10,464.34 L175.30,463.87 L175.50,463.35 L175.70,462.77 L175.90,462.12 L176.10,461.42 L176.30,460.65 L176.50,459.83 L176.70,458.96 L176.90,458.05 L177.10,457.10 L177.30,456.12 L177.50,455.09 L177.70,453.97 L177.90,452.49 L178.10,449.96 L178.30,444.79 L178.50,434.49 L178.70,416.70 L178.90,391.80 L179.10,365.35 L179.30,347.51 L179.50,347.52 L179.70,365.37 L179.90,391.84 L180.10,416.75 L180.30,434.55 L180.50,444.86 L180.70,450.04 L180.90,452.59 L181.10,454.08 L181.30,455.22 L181.50,456.25 L181.70,457.25 L181.90,458.21 L182.10,459.14 L182.30,460.02 L182.50,460.85 L182.70,461.63 L182.90,462.35 L183.10,463.01 L183.30,463.61 L183.50,464.14 L183.70,464.61 L183.90,465.03 L184.10,465.40 L184.30,465.71 L184.50,465.98 L184.70,466.21 L184.90,466.40 L185.10,466.56 L185.30,466.69 L185.50,466.80 L185.70,466.89 L185.90,466.96 L186.10,467.02 L186.30,467.07 L186.50,467.11 L186.70,467.13 L186.90,467.15 L187.10,467.16 L187.30,467.16 L187.50,467.14 L187.70,467.09 L187.90,467.00 L188.10,466.84 L188.30,466.64 L188.50,466.39 L188.70,466.16 L188.90,466.02 L189.10,466.03 L189.30,466.19 L189.50,466.43 L189.70,466.70 L189.90,466.92 L190.10,467.09 L190.30,467.21 L190.50,467.28 L190.70,467.33 L190.90,467.36 L191.10,467.37 L191.30,467.39 L191.50,467.40 L191.70,467.41 L191.90,467.42 L192.10,467.43 L192.30,467.44 L192.50,467.45 L192.70,467.46 L192.90,467.46 L193.10,467.46 L193.30,467.47 L193.50,467.47 L193.70,467.47 L193.90,467.47 L194.10,467.48 L194.30,467.48 L194.50,467.48 L194.70,467.48 L194.90,467.49 L195.10,467.49 L195.30,467.49 L195.50,467.49 L195.70,467.49 L195.90,467.49 L196.10,467.50 L196.30,467.50 L196.50,467.50 L196.70,467.50 L196.90,467.50 L197.10,467.50 L197.30,467.51 L197.50,467.51 L197.70,467.51 L197.90,467.51 L198.10,467.51 L198.30,467.51 L198.50,467.52 L198.70,467.52 L198.90,467.52 L199.10,467.52 L199.30,467.52 L199.50,467.52 L199.70,467.52 L199.90,467.53 L200.10,467.53 L200.30,467.53 L200.50,467.53 L200.70,467.53 L200.90,467.53 L201.10,467.53 L201.30,467.53 L201.50,467.54 L201.70,467.54 L201.90,467.54 L202.10,467.54 L202.30,467.54 L202.50,467.54 L202.70,467.54 L202.90,467.54 L203.10,467.55 L203.30,467.55 L203.50,467.55 L203.70,467.55 L203.90,467.55 L204.10,467.55 L204.30,467.55 L204.50,467.55 L204.70,467.56 L204.90,467.56 L205.10,467.56 L205.30,467.56 L205.50,467.56 L205.70,467.56 L205.90,467.56 L206.10,467.56 L206.30,467.56 L206.50,467.56 L206.70,467.57 L206.90,467.57 L207.10,467.56 L207.30,467.55 L207.50,467.54 L207.70,467.53 L207.90,467.53 L208.10,467.52 L208.30,467.51 L208.50,467.50 L208.70,467.49 L208.90,467.49 L209.10,467.48 L209.30,467.47 L209.50,467.46 L209.70,467.45 L209.90,467.44 L210.10,467.44 L210.30,467.43 L210.50,467.42 L210.70,467.41 L210.90,467.40 L211.10,467.39 L211.30,467.39 L211.50,467.38 L211.70,467.37 L211.90,467.36 L212.10,467.35 L212.30,467.34 L212.50,467.33 L212.70,467.32 L212.90,467.31 L213.10,467.30 L213.30,467.29 L213.50,467.29 L213.70,467.28 L213.90,467.27 L214.10,467.26 L214.30,467.25 L214.50,467.24 L214.70,467.22 L214.90,467.21 L215.10,467.20 L215.30,467.19 L215.50,467.18 L215.70,467.17 L215.90,467.16 L216.10,467.15 L216.30,467.13 L216.50,467.12 L216.70,467.11 L216.90,467.09 L217.10,467.08 L217.30,467.06 L217.50,467.05 L217.70,467.03 L217.90,467.01 L218.10,467.00 L218.30,466.98 L218.50,466.96 L218.70,466.94 L218.90,466.91 L219.10,466.89 L219.30,466.86 L219.50,466.83 L219.70,466.79 L219.90,466.74 L220.10,466.69 L220.30,466.62 L220.50,466.54 L220.70,466.43 L220.90,466.30 L221.10,466.13 L221.30,465.92 L221.50,465.65 L221.70,465.33 L221.90,464.94 L222.10,464.49 L222.30,463.97 L222.50,463.39 L222.70,462.76 L222.90,462.11 L223.10,461.46 L223.30,460.86 L223.50,460.33 L223.70,459.94 L223.90,459.73 L224.10,459.72 L224.30,459.92 L224.50,460.30 L224.70,460.81 L224.90,461.40 L225.10,462.04 L225.30,462.67 L225.50,463.28 L225.70,463.85 L225.90,464.35 L226.10,464.80 L226.30,465.17 L226.50,465.48 L226.70,465.73 L226.90,465.93 L227.10,466.09 L227.30,466.21 L227.50,466.30 L227.70,466.37 L227.90,466.42 L228.10,466.46 L228.30,466.49 L228.50,466.52 L228.70,466.54 L228.90,466.55 L229.10,466.56 L229.30,466.57 L229.50,466.58 L229.70,466.58 L229.90,466.59 L230.10,466.59 L230.30,466.60 L230.50,466.60 L230.70,466.60 L230.90,466.60 L231.10,466.60 L231.30,466.60 L231.50,466.60 L231.70,466.59 L231.90,466.59 L232.10,466.59 L232.30,466.59 L232.50,466.58 L232.70,466.58 L232.90,466.57 L233.10,466.57 L233.30,466.57 L233.50,466.56 L233.70,466.56 L233.90,466.55 L234.10,466.55 L234.30,466.54 L234.50,466.53 L234.70,466.53 L234.90,466.52 L235.10,466.51 L235.30,466.51 L235.50,466.50 L235.70,466.49 L235.90,466.49 L236.10,466.49 L236.30,466.49 L236.50,466.49 L236.70,466.49 L236.90,466.48 L237.10,466.48 L237.30,466.48 L237.50,466.48 L237.70,466.47 L237.90,466.47 L238.10,466.47 L238.30,466.46 L238.50,466.46 L238.70,466.45 L238.90,466.45 L239.10,466.44 L239.30,466.44 L239.50,466.43 L239.70,466.42 L239.90,466.41 L240.10,466.40 L240.30,466.39 L240.50,466.37 L240.70,466.36 L240.90,466.34 L241.10,466.31 L241.30,466.28 L241.50,466.24 L241.70,466.19 L241.90,466.12 L242.10,466.04 L242.30,465.93 L242.50,465.79 L242.70,465.62 L242.90,465.41 L243.10,465.15 L243.30,464.85 L243.50,464.51 L243.70,464.13 L243.90,463.72 L244.10,463.29 L244.30,462.86 L244.50,462.46 L244.70,462.11 L244.90,461.85 L245.10,461.72 L245.30,461.72 L245.50,461.85 L245.70,462.11 L245.90,462.45 L246.10,462.86 L246.30,463.28 L246.50,463.71 L246.70,464.13 L246.90,464.51 L247.10,464.85 L247.30,465.15 L247.50,465.40 L247.70,465.61 L247.90,465.78 L248.10,465.92 L248.30,466.03 L248.50,466.11 L248.70,466.18 L248.90,466.23 L249.10,466.27 L249.30,466.30 L249.50,466.32 L249.70,466.33 L249.90,466.34 L250.10,466.35 L250.30,466.36 L250.50,466.36 L250.70,466.37 L250.90,466.37 L251.10,466.37 L251.30,466.37 L251.50,466.37 L251.70,466.37 L251.90,466.37 L252.10,466.36 L252.30,466.36 L252.50,466.36 L252.70,466.36 L252.90,466.35 L253.10,466.35 L253.30,466.34 L253.50,466.34 L253.70,466.33 L253.90,466.33 L254.10,466.32 L254.30,466.32 L254.50,466.31 L254.70,466.31 L254.90,466.30 L255.10,466.29 L255.30,466.28 L255.50,466.28 L255.70,466.27 L255.90,466.26 L256.10,466.25 L256.30,466.25 L256.50,466.24 L256.70,466.23 L256.90,466.22 L257.10,466.21 L257.30,466.20 L257.50,466.19 L257.70,466.18 L257.90,466.17 L258.10,466.15 L258.30,466.14 L258.50,466.13 L258.70,466.11 L258.90,466.10 L259.10,466.08 L259.30,466.07 L259.50,466.05 L259.70,466.03 L259.90,466.02 L260.10,466.00 L260.30,466.00 L260.50,465.99 L260.70,465.98 L260.90,465.97 L261.10,465.95 L261.30,465.94 L261.50,465.92 L261.70,465.89 L261.90,465.86 L262.10,465.82 L262.30,465.77 L262.50,465.70 L262.70,465.62 L262.90,465.51 L263.10,465.38 L263.30,465.21 L263.50,464.99 L263.70,464.72 L263.90,464.39 L264.10,463.99 L264.30,463.52 L264.50,462.96 L264.70,462.32 L264.90,461.61 L265.10,460.82 L265.30,459.98 L265.50,459.10 L265.70,458.22 L265.90,457.36 L266.10,456.59 L266.30,455.94 L266.50,455.47 L266.70,455.23 L266.90,455.24 L267.10,455.50 L267.30,455.99 L267.50,456.65 L267.70,457.45 L267.90,458.32 L268.10,459.23 L268.30,460.13 L268.50,460.99 L268.70,461.79 L268.90,462.53 L269.10,463.18 L269.30,463.76 L269.50,464.25 L269.70,464.67 L269.90,465.02 L270.10,465.31 L270.30,465.55 L270.50,465.74 L270.70,465.89 L270.90,466.02 L271.10,466.12 L271.30,466.21 L271.50,466.28 L271.70,466.34 L271.90,466.39 L272.10,466.43 L272.30,466.47 L272.50,466.51 L272.70,466.54 L272.90,466.58 L273.10,466.60 L273.30,466.63 L273.50,466.66 L273.70,466.68 L273.90,466.71 L274.10,466.73 L274.30,466.75 L274.50,466.77 L274.70,466.79 L274.90,466.81 L275.10,466.83 L275.30,466.85 L275.50,466.86 L275.70,466.88 L275.90,466.90 L276.10,466.91 L276.30,466.93 L276.50,466.94 L276.70,466.96 L276.90,466.97 L277.10,466.99 L277.30,467.00 L277.50,467.01 L277.70,467.03 L277.90,467.04 L278.10,467.05 L278.30,467.07 L278.50,467.08 L278.70,467.09 L278.90,467.11 L279.10,467.11 L279.30,467.12 L279.50,467.13 L279.70,467.13 L279.90,467.14 L280.10,467.15 L280.30,467.16 L280.50,467.16 L280.70,467.17 L280.90,467.18 L281.10,467.18 L281.30,467.19 L281.50,467.20 L281.70,467.20 L281.90,467.21 L282.10,467.21 L282.30,467.22 L282.50,467.23 L282.70,467.23 L282.90,467.24 L283.10,467.25 L283.30,467.25 L283.50,467.26 L283.70,467.26 L283.90,467.27 L284.10,467.27 L284.30,467.28 L284.50,467.29 L284.70,467.29 L284.90,467.30 L285.10,467.30 L285.30,467.31 L285.50,467.31 L285.70,467.32 L285.90,467.33 L286.10,467.33 L286.30,467.34 L286.50,467.34 L286.70,467.35 L286.90,467.35 L287.10,467.36 L287.30,467.36 L287.50,467.37 L287.70,467.37 L287.90,467.38 L288.10,467.39 L288.30,467.39 L288.50,467.40 L288.70,467.40 L288.90,467.41 L289.10,467.41 L289.30,467.42 L289.50,467.42 L289.70,467.43 L289.90,467.43 L290.10,467.44 L290.30,467.44 L290.50,467.45 L290.70,467.45 L290.90,467.46 L291.10,467.46 L291.30,467.47 L291.50,467.47 L291.70,467.48 L291.90,467.48 L292.10,467.49 L292.30,467.49 L292.50,467.50 L292.70,467.50 L292.90,467.51 L293.10,467.51 L293.30,467.52 L293.50,467.52 L293.70,467.53 L293.90,467.53 L294.10,467.54 L294.30,467.54 L294.50,467.55 L294.70,467.55 L294.90,467.56 L295.10,467.56 L295.30,467.57 L295.50,467.57 L295.70,467.58 L295.90,467.58 L296.10,467.59 L296.30,467.59 L296.50,467.60 L296.70,467.60 L296.90,467.61 L297.10,467.61 L297.30,467.62 L297.50,467.62 L297.70,467.63 L297.90,467.63 L298.10,467.64 L298.30,467.64 L298.50,467.65 L298.70,467.65 L298.90,467.66 L299.10,467.66 L299.30,467.67 L299.50,467.67 L299.70,467.68 L299.90,467.68 L300.10,467.69 L300.30,467.69 L300.50,467.70 L300.70,467.70 L300.90,467.71 L301.10,467.71 L301.30,467.72 L301.50,467.72 L301.70,467.73 L301.90,467.73 L302.10,467.74 L302.30,467.74 L302.50,467.75 L302.70,467.75 L302.90,467.76 L303.10,467.76 L303.30,467.77 L303.50,467.77 L303.70,467.78 L303.90,467.78 L304.10,467.79 L304.30,467.79 L304.50,467.80 L304.70,467.80 L304.90,467.81 L305.10,467.81 L305.30,467.82 L305.50,467.82 L305.70,467.83 L305.90,467.83 L306.10,467.83 L306.30,467.84 L306.50,467.84 L306.70,467.85 L306.90,467.85 L307.10,467.86 L307.30,467.86 L307.50,467.87 L307.70,467.87 L307.90,467.88 L308.10,467.88 L308.30,467.89 L308.50,467.89 L308.70,467.90 L308.90,467.90 L309.10,467.91 L309.30,467.91 L309.50,467.92 L309.70,467.92 L309.90,467.93 L310.10,467.93 L310.30,467.94 L310.50,467.94 L310.70,467.95 L310.90,467.95 L311.10,467.96 L311.30,467.96 L311.50,467.97 L311.70,467.97 L311.90,467.97 L312.10,467.98 L312.30,467.98 L312.50,467.99 L312.70,467.99 L312.90,467.99" fill="none" stroke="#d92b20" stroke-width="1.4" stroke-linejoin="round" />
<line x1="176.2" y1="294.09999999999997" x2="176.2" y2="283.8" stroke="#999" stroke-width="0.7" stroke-dasharray="1.2,0.6"/>
<text x="178.39999999999998" y="277.3" font-size="6.6" fill="#222" text-anchor="middle" font-weight="normal" transform="rotate(-90 178.39999999999998 277.3)" textLength="11.6" lengthAdjust="spacingAndGlyphs" stroke="#222" stroke-width="0.12">125</text>
<line x1="182.0" y1="246.7" x2="182.0" y2="241.4" stroke="#999" stroke-width="0.7" stroke-dasharray="1.2,0.6"/>
<text x="184.2" y="234.9" font-size="6.6" fill="#222" text-anchor="middle" font-weight="normal" transform="rotate(-90 184.2 234.9)" textLength="11.6" lengthAdjust="spacingAndGlyphs" stroke="#222" stroke-width="0.12">152</text>
<line x1="189.4" y1="308.7" x2="189.4" y2="298.3" stroke="#999" stroke-width="0.7" stroke-dasharray="1.2,0.6"/>
<text x="191.6" y="291.8" font-size="6.6" fill="#222" text-anchor="middle" font-weight="normal" transform="rotate(-90 191.6 291.8)" textLength="11.6" lengthAdjust="spacingAndGlyphs" stroke="#222" stroke-width="0.12">194</text>
<line x1="192.8" y1="308.7" x2="192.8" y2="283.8" stroke="#999" stroke-width="0.7" stroke-dasharray="1.2,0.6"/>
<text x="195.0" y="277.3" font-size="6.6" fill="#222" text-anchor="middle" font-weight="normal" transform="rotate(-90 195.0 277.3)" textLength="11.6" lengthAdjust="spacingAndGlyphs" stroke="#222" stroke-width="0.12">214</text>
<line x1="198.6" y1="300.7" x2="198.6" y2="295.40000000000003" stroke="#999" stroke-width="0.7" stroke-dasharray="1.2,0.6"/>
<text x="200.79999999999998" y="288.90000000000003" font-size="6.6" fill="#222" text-anchor="middle" font-weight="normal" transform="rotate(-90 200.79999999999998 288.90000000000003)" textLength="11.6" lengthAdjust="spacingAndGlyphs" stroke="#222" stroke-width="0.12">246</text>
<line x1="205.8" y1="306.7" x2="205.8" y2="296.40000000000003" stroke="#999" stroke-width="0.7" stroke-dasharray="1.2,0.6"/>
<text x="208.0" y="289.90000000000003" font-size="6.6" fill="#222" text-anchor="middle" font-weight="normal" transform="rotate(-90 208.0 289.90000000000003)" textLength="11.6" lengthAdjust="spacingAndGlyphs" stroke="#222" stroke-width="0.12">288</text>
<line x1="211.6" y1="295.7" x2="211.6" y2="284.8" stroke="#999" stroke-width="0.7" stroke-dasharray="1.2,0.6"/>
<text x="213.79999999999998" y="278.3" font-size="6.6" fill="#222" text-anchor="middle" font-weight="normal" transform="rotate(-90 213.79999999999998 278.3)" textLength="11.6" lengthAdjust="spacingAndGlyphs" stroke="#222" stroke-width="0.12">322</text>
<line x1="219.4" y1="301.7" x2="219.4" y2="272.20000000000005" stroke="#999" stroke-width="0.7" stroke-dasharray="1.2,0.6"/>
<text x="221.6" y="265.70000000000005" font-size="6.6" fill="#222" text-anchor="middle" font-weight="normal" transform="rotate(-90 221.6 265.70000000000005)" textLength="11.6" lengthAdjust="spacingAndGlyphs" stroke="#222" stroke-width="0.12">366</text>
<line x1="227.7" y1="306.7" x2="227.7" y2="294.8" stroke="#999" stroke-width="0.7" stroke-dasharray="1.2,0.6"/>
<text x="229.89999999999998" y="288.3" font-size="6.6" fill="#222" text-anchor="middle" font-weight="normal" transform="rotate(-90 229.89999999999998 288.3)" textLength="11.6" lengthAdjust="spacingAndGlyphs" stroke="#222" stroke-width="0.12">412</text>
<line x1="236.7" y1="304.7" x2="236.7" y2="293.3" stroke="#999" stroke-width="0.7" stroke-dasharray="1.2,0.6"/>
<text x="238.89999999999998" y="286.8" font-size="6.6" fill="#222" text-anchor="middle" font-weight="normal" transform="rotate(-90 238.89999999999998 286.8)" textLength="11.6" lengthAdjust="spacingAndGlyphs" stroke="#222" stroke-width="0.12">462</text>
<line x1="244.2" y1="307.2" x2="244.2" y2="294.8" stroke="#999" stroke-width="0.7" stroke-dasharray="1.2,0.6"/>
<text x="246.39999999999998" y="288.3" font-size="6.6" fill="#222" text-anchor="middle" font-weight="normal" transform="rotate(-90 246.39999999999998 288.3)" textLength="11.6" lengthAdjust="spacingAndGlyphs" stroke="#222" stroke-width="0.12">502</text>
<line x1="251.7" y1="302.7" x2="251.7" y2="291.0" stroke="#999" stroke-width="0.7" stroke-dasharray="1.2,0.6"/>
<text x="253.89999999999998" y="284.5" font-size="6.6" fill="#222" text-anchor="middle" font-weight="normal" transform="rotate(-90 253.89999999999998 284.5)" textLength="11.6" lengthAdjust="spacingAndGlyphs" stroke="#222" stroke-width="0.12">545</text>
<line x1="258.4" y1="307.2" x2="258.4" y2="296.3" stroke="#999" stroke-width="0.7" stroke-dasharray="1.2,0.6"/>
<text x="260.59999999999997" y="289.8" font-size="6.6" fill="#222" text-anchor="middle" font-weight="normal" transform="rotate(-90 260.59999999999997 289.8)" textLength="11.6" lengthAdjust="spacingAndGlyphs" stroke="#222" stroke-width="0.12">553</text>
<line x1="267.2" y1="302.7" x2="267.2" y2="290.40000000000003" stroke="#999" stroke-width="0.7" stroke-dasharray="1.2,0.6"/>
<text x="269.4" y="283.90000000000003" font-size="6.6" fill="#222" text-anchor="middle" font-weight="normal" transform="rotate(-90 269.4 283.90000000000003)" textLength="11.6" lengthAdjust="spacingAndGlyphs" stroke="#222" stroke-width="0.12">637</text>
<line x1="180.5" y1="344.7" x2="180.5" y2="335.1" stroke="#999" stroke-width="0.7" stroke-dasharray="1.2,0.6"/>
<text x="182.7" y="328.6" font-size="6.6" fill="#222" text-anchor="middle" font-weight="normal" transform="rotate(-90 182.7 328.6)" textLength="11.6" lengthAdjust="spacingAndGlyphs" stroke="#222" stroke-width="0.12">142</text>
<line x1="196.6" y1="371.7" x2="196.6" y2="359.8" stroke="#999" stroke-width="0.7" stroke-dasharray="1.2,0.6"/>
<text x="198.79999999999998" y="353.3" font-size="6.6" fill="#222" text-anchor="middle" font-weight="normal" transform="rotate(-90 198.79999999999998 353.3)" textLength="11.6" lengthAdjust="spacingAndGlyphs" stroke="#222" stroke-width="0.12">239</text>
<line x1="233.6" y1="363.7" x2="233.6" y2="351.20000000000005" stroke="#999" stroke-width="0.7" stroke-dasharray="1.2,0.6"/>
<text x="235.79999999999998" y="344.70000000000005" font-size="6.6" fill="#222" text-anchor="middle" font-weight="normal" transform="rotate(-90 235.79999999999998 344.70000000000005)" textLength="11.6" lengthAdjust="spacingAndGlyphs" stroke="#222" stroke-width="0.12">446</text>
<line x1="262.3" y1="363.09999999999997" x2="262.3" y2="351.20000000000005" stroke="#999" stroke-width="0.7" stroke-dasharray="1.2,0.6"/>
<text x="264.5" y="344.70000000000005" font-size="6.6" fill="#222" text-anchor="middle" font-weight="normal" transform="rotate(-90 264.5 344.70000000000005)" textLength="11.6" lengthAdjust="spacingAndGlyphs" stroke="#222" stroke-width="0.12">610</text>
<line x1="190.1" y1="465.7" x2="190.1" y2="452.6" stroke="#999" stroke-width="0.7" stroke-dasharray="1.2,0.6"/>
<text x="192.29999999999998" y="446.1" font-size="6.6" fill="#222" text-anchor="middle" font-weight="normal" transform="rotate(-90 192.29999999999998 446.1)" textLength="11.6" lengthAdjust="spacingAndGlyphs" stroke="#222" stroke-width="0.12">196</text>
<line x1="224.9" y1="459.7" x2="224.9" y2="449.1" stroke="#999" stroke-width="0.7" stroke-dasharray="1.2,0.6"/>
<text x="227.1" y="442.6" font-size="6.6" fill="#222" text-anchor="middle" font-weight="normal" transform="rotate(-90 227.1 442.6)" textLength="11.6" lengthAdjust="spacingAndGlyphs" stroke="#222" stroke-width="0.12">395</text>
<line x1="245.8" y1="460.7" x2="245.8" y2="449.1" stroke="#999" stroke-width="0.7" stroke-dasharray="1.2,0.6"/>
<text x="248.0" y="442.6" font-size="6.6" fill="#222" text-anchor="middle" font-weight="normal" transform="rotate(-90 248.0 442.6)" textLength="11.6" lengthAdjust="spacingAndGlyphs" stroke="#222" stroke-width="0.12">514</text>
<line x1="267.4" y1="454.7" x2="267.4" y2="443.1" stroke="#999" stroke-width="0.7" stroke-dasharray="1.2,0.6"/>
<text x="269.59999999999997" y="436.6" font-size="6.6" fill="#222" text-anchor="middle" font-weight="normal" transform="rotate(-90 269.59999999999997 436.6)" textLength="11.6" lengthAdjust="spacingAndGlyphs" stroke="#222" stroke-width="0.12">638</text>
<text x="41.8" y="200.8" font-size="11.2" fill="#111" stroke="#111" stroke-width="0.4" textLength="107.0" lengthAdjust="spacingAndGlyphs">Relative pressure, P/P<tspan font-size="7.5" dy="2.5">0</tspan></text>
<text x="191.6" y="200.3" font-size="11.2" fill="#111" stroke="#111" stroke-width="0.4" textLength="87.99" lengthAdjust="spacingAndGlyphs">Pore diameter, nm</text>
<text x="69.0" y="516.5" font-size="11.2" fill="#111" stroke="#111" stroke-width="0.4" textLength="43.75" lengthAdjust="spacingAndGlyphs">2Theta, °</text>
<text x="200.4" y="516.2" font-size="11.2" fill="#111" stroke="#111" stroke-width="0.4" textLength="83.16" lengthAdjust="spacingAndGlyphs">Raman shift, cm<tspan font-size="7" dy="-3.5">-1</tspan></text>
<text x="42.2" y="30.3" font-size="16.3" fill="#111" stroke="#111" stroke-width="0.55" textLength="12.31" lengthAdjust="spacingAndGlyphs">a)</text>
<text x="275.6" y="30.5" font-size="16.3" fill="#111" stroke="#111" stroke-width="0.55" textLength="13.97" lengthAdjust="spacingAndGlyphs">b)</text>
<text x="137.0" y="245.2" font-size="16.3" fill="#111" stroke="#111" stroke-width="0.55" textLength="12.02" lengthAdjust="spacingAndGlyphs">c)</text>
<text x="287.6" y="244.7" font-size="16.3" fill="#111" stroke="#111" stroke-width="0.55" textLength="13.71" lengthAdjust="spacingAndGlyphs">d)</text>
<text x="107.6" y="65.7" font-size="10.9" fill="#222" stroke="#222" stroke-width="0.4" textLength="12.32" lengthAdjust="spacingAndGlyphs">AN</text>
<text x="107.6" y="82.2" font-size="10.9" fill="#222" stroke="#222" stroke-width="0.4" textLength="11.41" lengthAdjust="spacingAndGlyphs">RU</text>
<text x="107.6" y="98.7" font-size="10.9" fill="#222" stroke="#222" stroke-width="0.4" textLength="10.68" lengthAdjust="spacingAndGlyphs">BR</text>
<text x="276.8" y="65.8" font-size="10.9" fill="#222" stroke="#222" stroke-width="0.4" textLength="11.7" lengthAdjust="spacingAndGlyphs">AN</text>
<text x="276.4" y="82.1" font-size="10.9" fill="#222" stroke="#222" stroke-width="0.4" textLength="11.8" lengthAdjust="spacingAndGlyphs">RU</text>
<text x="276.4" y="98.3" font-size="10.9" fill="#222" stroke="#222" stroke-width="0.4" textLength="11.55" lengthAdjust="spacingAndGlyphs">BR</text>
<text x="65.2" y="286.2" font-size="9.8" fill="#2a2a2a" stroke="#2a2a2a" stroke-width="0.18" textLength="92.88" lengthAdjust="spacingAndGlyphs">AN – COD#9008213</text>
<text x="65.2" y="299.7" font-size="9.8" fill="#2a2a2a" stroke="#2a2a2a" stroke-width="0.18" textLength="92.58" lengthAdjust="spacingAndGlyphs">RU – COD#9001681</text>
<text x="65.2" y="313.2" font-size="9.8" fill="#2a2a2a" stroke="#2a2a2a" stroke-width="0.18" textLength="90.53" lengthAdjust="spacingAndGlyphs">BR – COD#9004137</text>
<text x="289.2" y="278.0" font-size="12.6" fill="#222" stroke="#222" stroke-width="0.4" textLength="11.89" lengthAdjust="spacingAndGlyphs">BR</text>
<text x="288.2" y="343.8" font-size="12.3" fill="#222" stroke="#222" stroke-width="0.4" textLength="11.89" lengthAdjust="spacingAndGlyphs">RU</text>
<text x="287.4" y="430.4" font-size="12.9" fill="#222" stroke="#222" stroke-width="0.4" textLength="13.16" lengthAdjust="spacingAndGlyphs">AN</text>
<text x="9.6" y="160.2" font-size="11.3" fill="#111" stroke="#111" stroke-width="0.4" transform="rotate(-90 9.6 160.2)" textLength="146.29" lengthAdjust="spacingAndGlyphs">Quantity adsorbed, cm<tspan font-size="7.5" dy="-3.5">3</tspan><tspan dy="3.5">/g STP</tspan></text>
<text x="330.6" y="162.4" font-size="11.3" fill="#111" stroke="#111" stroke-width="0.4" transform="rotate(-90 330.6 162.4)" textLength="151.78" lengthAdjust="spacingAndGlyphs">dV/dlog(D) Pore volume, cm<tspan font-size="7.5" dy="-3.5">3</tspan><tspan dy="3.5">/g</tspan></text>
<text x="8.9" y="381.0" font-size="11.3" fill="#111" stroke="#111" stroke-width="0.4" transform="rotate(-90 8.9 381.0)" textLength="64.19" lengthAdjust="spacingAndGlyphs">Intensity, a.u.</text>
<text x="330.6" y="381.4" font-size="11.3" fill="#111" stroke="#111" stroke-width="0.4" transform="rotate(-90 330.6 381.4)" textLength="64.6" lengthAdjust="spacingAndGlyphs">Intensity, a.u.</text>
<text x="36.3" y="353.2" font-size="11.8" fill="#222" stroke="#222" stroke-width="0.4" transform="rotate(-90 36.3 353.2)" textLength="13.15" lengthAdjust="spacingAndGlyphs">AN</text>
<text x="36.2" y="402.0" font-size="11.8" fill="#222" stroke="#222" stroke-width="0.4" transform="rotate(-90 36.2 402.0)" textLength="11.38" lengthAdjust="spacingAndGlyphs">RU</text>
<text x="36.2" y="449.2" font-size="11.8" fill="#222" stroke="#222" stroke-width="0.4" transform="rotate(-90 36.2 449.2)" textLength="11.38" lengthAdjust="spacingAndGlyphs">BR</text>
</svg></body></html>
